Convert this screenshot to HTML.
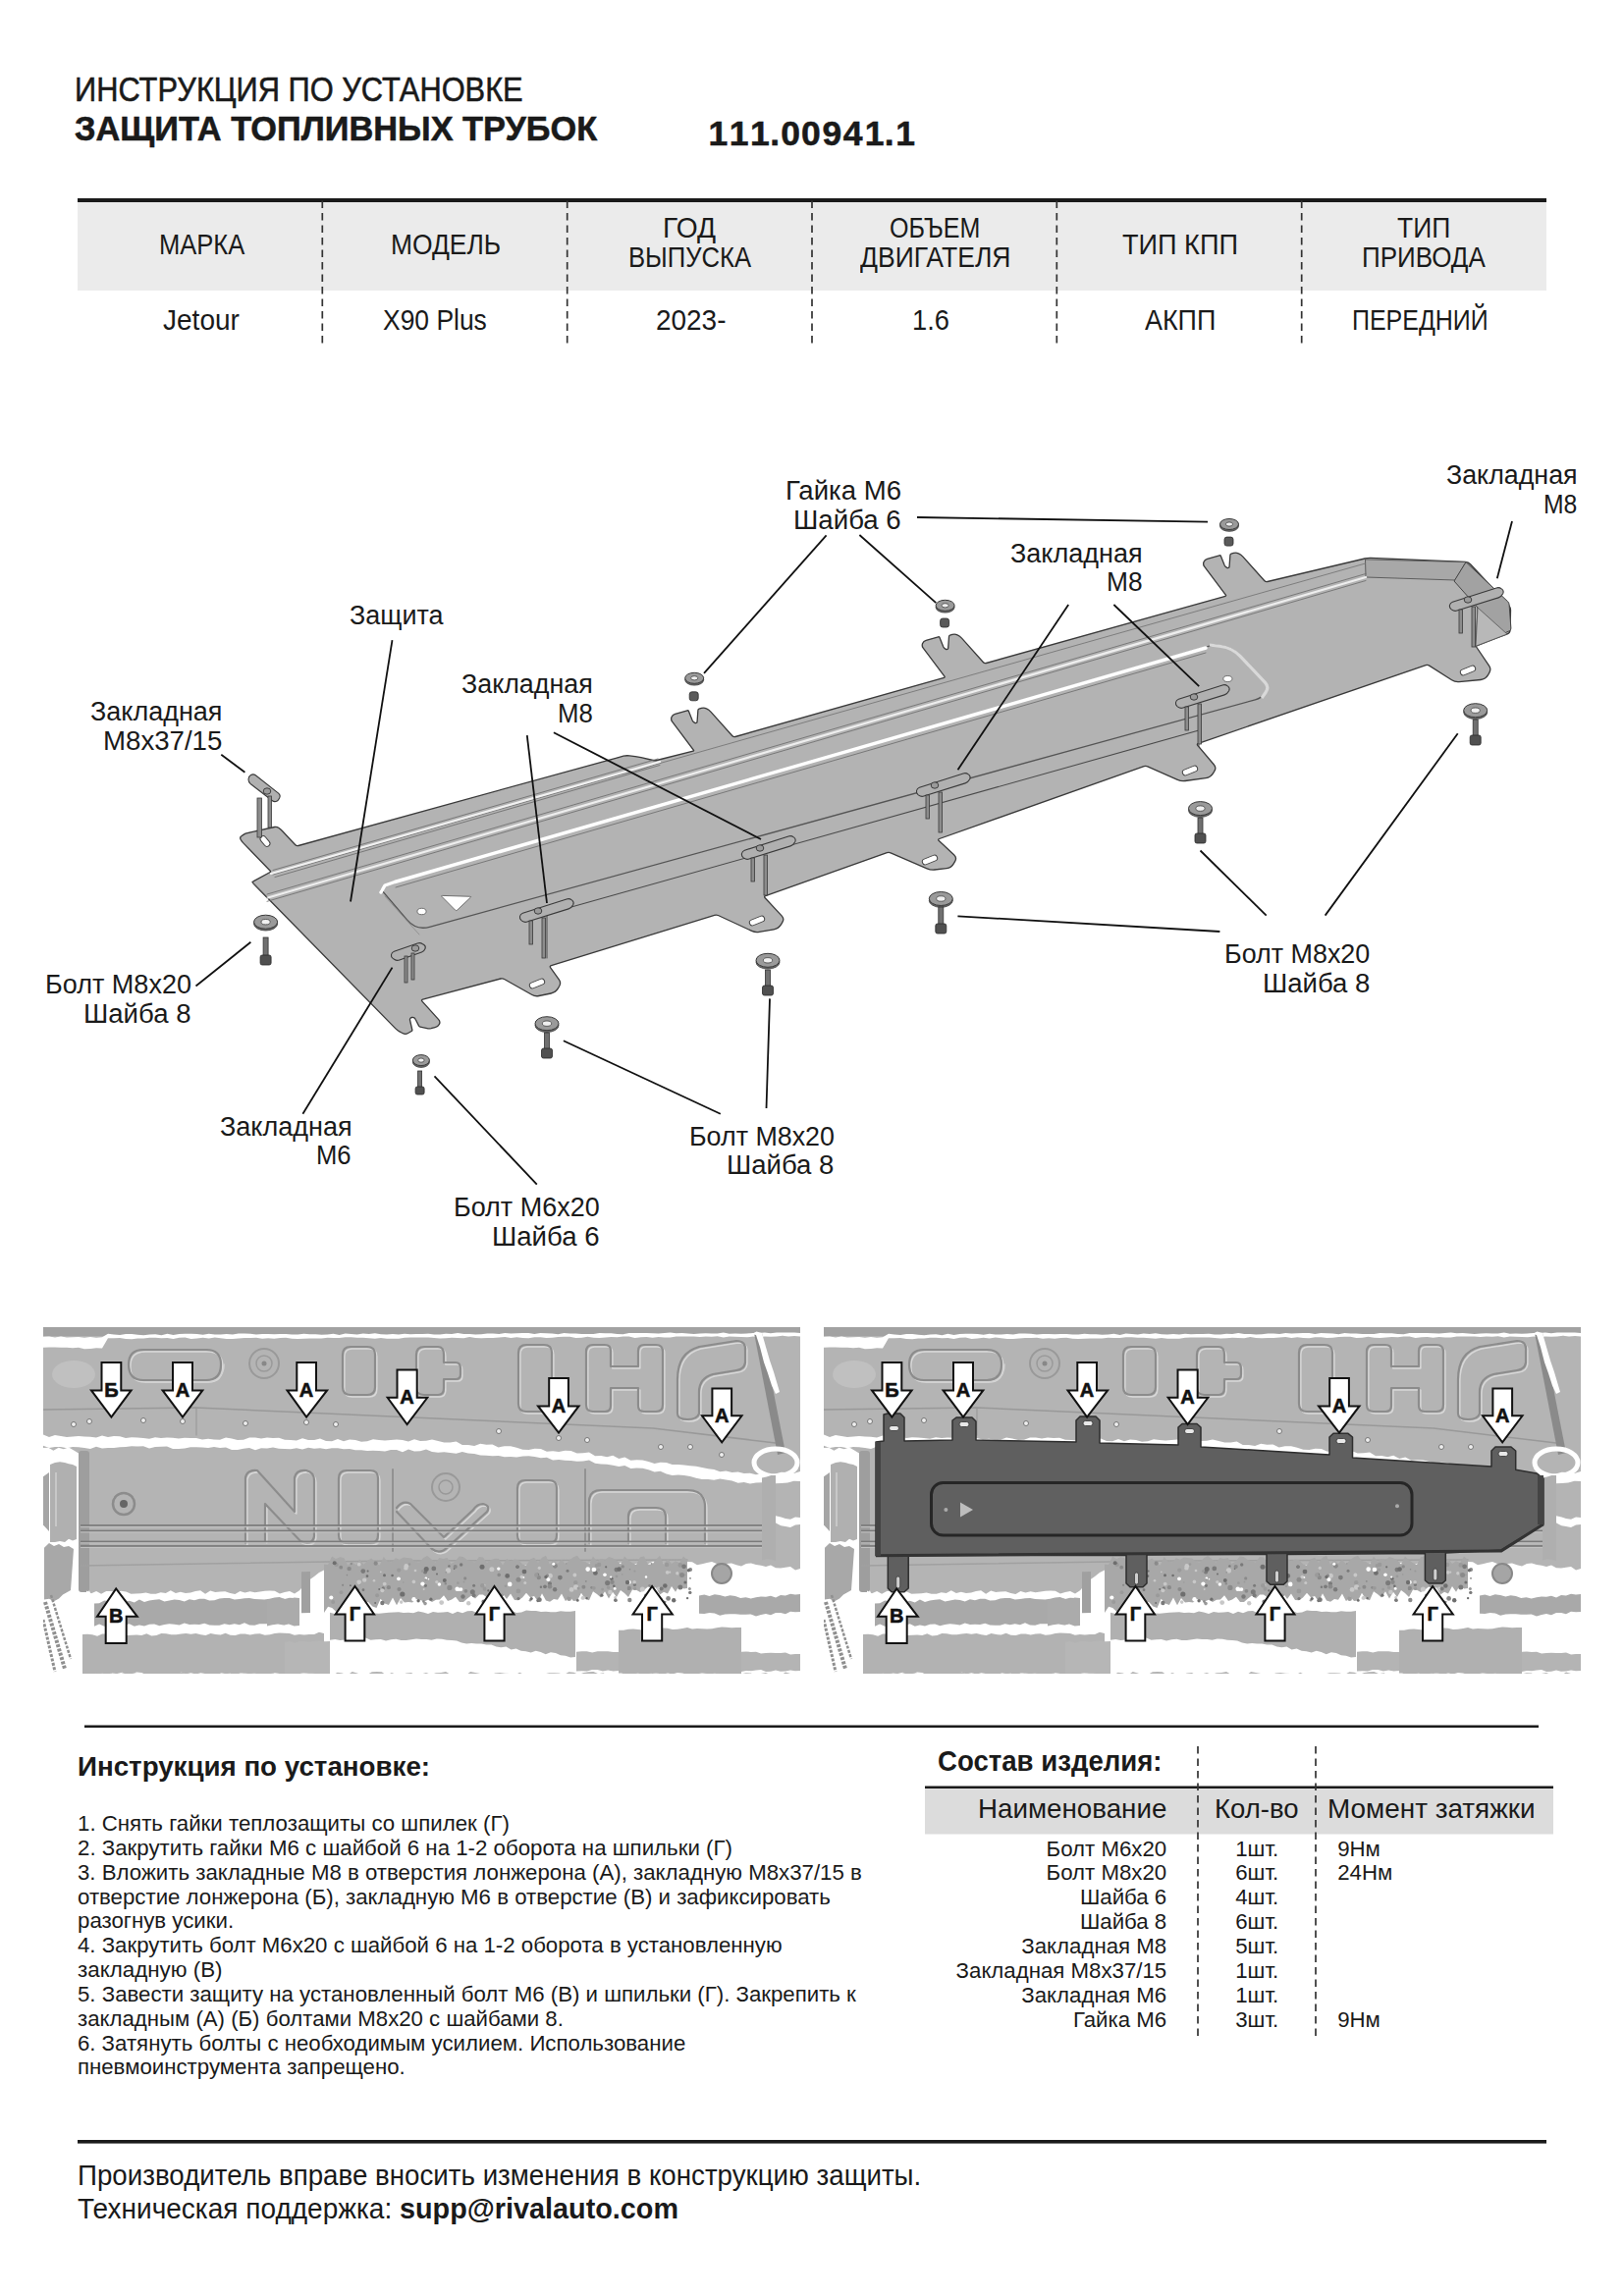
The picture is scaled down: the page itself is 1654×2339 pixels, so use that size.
<!DOCTYPE html>
<html><head><meta charset="utf-8"><style>
html,body{margin:0;padding:0;background:#fff;width:1654px;height:2339px;overflow:hidden}
body{position:relative;font-family:"Liberation Sans",sans-serif;color:#1a1a1a}
.x{position:absolute;white-space:pre;line-height:1;transform-origin:0 0}
.s{-webkit-text-stroke:0.55px #1a1a1a}
svg{position:absolute;left:0;top:0}
</style></head><body>
<svg width="1654" height="2339" viewBox="0 0 1654 2339">
<!-- top table -->
<rect x="79" y="206" width="1496" height="90" fill="#ebebeb"/>
<rect x="79" y="202" width="1496" height="4" fill="#1a1a1a"/>
<g stroke="#333" stroke-width="1.7" stroke-dasharray="7.5 5">
<line x1="328.3" y1="204.5" x2="328.3" y2="350"/>
<line x1="577.7" y1="204.5" x2="577.7" y2="350"/>
<line x1="827" y1="204.5" x2="827" y2="350"/>
<line x1="1076.3" y1="204.5" x2="1076.3" y2="350"/>
<line x1="1325.7" y1="204.5" x2="1325.7" y2="350"/>
</g>
<!-- bottom section -->
<rect x="86" y="1757.5" width="1481" height="2.5" fill="#1a1a1a"/>
<rect x="942" y="1821" width="640" height="47.5" fill="#dcdcdc"/>
<rect x="942" y="1819.5" width="640" height="2.5" fill="#1a1a1a"/>
<g stroke="#333" stroke-width="1.7" stroke-dasharray="7.5 5">
<line x1="1220" y1="1779" x2="1220" y2="2077"/>
<line x1="1340" y1="1779" x2="1340" y2="2077"/>
</g>
<rect x="79" y="2180" width="1496" height="3.6" fill="#1a1a1a"/>
<path d="M258.0,900.0 Q256.6,898.6 258.4,897.6 L275.1,888.5 Q276.0,888.0 275.3,887.3 L247.6,858.6 Q246.0,857.0 245.0,855.0 L245.0,855.0 Q244.0,853.0 245.9,851.8 L248.3,850.1 Q250.0,849.0 252.0,848.6 L279.6,842.5 Q282.0,842.0 284.0,843.5 L284.0,843.5 Q286.0,845.0 287.7,846.8 L300.6,860.5 Q302.0,862.0 303.9,861.5 L629.0,771.8 Q632.0,771.0 635.0,770.2 L635.0,770.2 Q638.0,769.5 641.1,769.9 L647.0,770.6 Q650.0,771.0 652.9,771.7 L665.1,774.5 Q667.0,775.0 668.9,774.5 L706.0,765.2 Q707.0,765.0 706.4,764.2 L684.6,735.2 Q683.0,733.0 684.0,730.5 L684.0,730.5 Q685.0,728.0 687.6,727.3 L700.0,723.8 Q701.0,723.5 701.4,724.4 L705.2,734.1 Q706.0,736.0 708.0,736.5 L708.0,736.5 Q710.0,737.0 710.1,734.9 L710.9,723.5 Q711.0,722.5 711.9,722.2 L714.3,721.4 Q717.0,720.5 719.5,721.8 L719.5,721.8 Q722.0,723.0 723.9,725.1 L745.7,749.5 Q747.0,751.0 748.9,750.5 L961.6,690.3 Q962.6,690.0 962.0,689.2 L940.2,660.2 Q938.6,658.0 939.6,655.5 L939.6,655.5 Q940.6,653.0 943.2,652.3 L955.6,648.8 Q956.6,648.5 957.0,649.4 L960.8,659.1 Q961.6,661.0 963.6,661.5 L963.6,661.5 Q965.6,662.0 965.7,659.9 L966.5,648.5 Q966.6,647.5 967.5,647.2 L969.9,646.4 Q972.6,645.5 975.1,646.8 L975.1,646.8 Q977.6,648.0 979.5,650.1 L1001.3,674.5 Q1002.6,676.0 1004.5,675.5 L1248.0,607.3 Q1249.0,607.0 1248.4,606.2 L1226.6,577.2 Q1225.0,575.0 1226.0,572.5 L1226.0,572.5 Q1227.0,570.0 1229.6,569.3 L1242.0,565.8 Q1243.0,565.5 1243.4,566.4 L1247.2,576.1 Q1248.0,578.0 1250.0,578.5 L1250.0,578.5 Q1252.0,579.0 1252.1,576.9 L1252.9,565.5 Q1253.0,564.5 1253.9,564.2 L1256.3,563.4 Q1259.0,562.5 1261.5,563.8 L1261.5,563.8 Q1264.0,565.0 1265.9,567.1 L1287.7,591.5 Q1289.0,593.0 1290.9,592.5 L1390.1,569.0 Q1393.0,568.3 1396.0,568.4 L1492.5,572.5 Q1495.5,572.6 1497.5,574.8 L1536.6,616.6 Q1538.6,618.8 1538.5,621.8 L1538.1,641.7 Q1538.0,644.7 1535.2,645.8 L1503.9,657.8 Q1503.0,658.2 1503.6,659.0 L1516.7,678.3 Q1518.9,681.6 1516.9,685.1 L1515.5,687.7 Q1513.0,692.0 1508.0,692.5 L1486.0,694.6 Q1482.0,695.0 1478.6,692.8 L1455.7,678.1 Q1454.0,677.0 1452.1,677.7 L1220.5,757.3 Q1218.6,758.0 1219.9,759.5 L1236.4,779.0 Q1239.0,782.0 1236.9,785.4 L1235.6,787.7 Q1233.0,792.0 1228.0,792.7 L1207.0,795.5 Q1203.0,796.0 1199.3,794.4 L1168.8,780.8 Q1167.0,780.0 1165.1,780.7 L956.7,854.5 Q954.8,855.2 956.3,856.6 L971.8,871.0 Q974.7,873.7 972.8,877.2 L971.4,879.6 Q969.0,884.0 964.0,884.6 L951.8,886.0 Q947.8,886.4 944.1,884.8 L907.1,868.8 Q905.3,868.0 903.4,868.7 L779.7,912.6 Q777.8,913.3 779.2,914.8 L796.3,933.1 Q799.0,936.0 796.9,939.4 L795.6,941.7 Q793.0,946.0 788.1,946.9 L773.2,949.4 Q769.3,950.1 765.7,948.4 L731.4,932.5 Q729.6,931.7 727.7,932.3 L561.4,983.7 Q559.5,984.3 560.7,985.9 L569.3,997.8 Q571.7,1001.0 569.7,1004.5 L568.5,1006.7 Q566.0,1011.0 561.1,1012.0 L548.9,1014.5 Q545.0,1015.3 541.5,1013.3 L513.6,997.5 Q511.9,996.5 510.0,997.0 L430.6,1018.1 Q428.7,1018.6 430.0,1020.1 L446.7,1038.6 Q448.7,1040.8 447.4,1043.4 L447.4,1043.4 Q446.0,1046.0 443.1,1046.6 L439.0,1047.6 Q437.0,1048.0 435.0,1047.6 L428.0,1046.2 Q427.0,1046.0 426.6,1045.1 L423.1,1038.3 Q422.0,1036.0 419.5,1036.5 L419.5,1036.5 Q417.0,1037.0 417.6,1039.5 L419.8,1049.0 Q420.0,1050.0 419.1,1050.5 L415.6,1052.5 Q413.0,1054.0 410.3,1052.7 L407.7,1051.3 Q405.0,1050.0 402.9,1047.9 Z" fill="#b3b3b3" stroke="#3a3a3a" stroke-width="1.3" stroke-linejoin="round"/>
<path d="M1390.5,569.9 L1493.0,572.6 L1482.0,591.0 L1391.0,588.0 Z" fill="#a8a8a8" stroke="#555" stroke-width="0.9"/>
<path d="M1493.0,572.6 L1535.5,612.6 Q1537.0,614.0 1537.1,616.0 L1538.9,640.0 Q1539.0,642.0 1537.2,642.8 L1503.0,658.2 L1505.0,619.0 L1481.0,592.0 Z" fill="#a2a2a2" stroke="#444" stroke-width="1"/>
<path d="M1505.0,619.0 L1535.0,646.0 L1503.0,658.2 Z" fill="#b8b8b8" stroke="#555" stroke-width="0.8"/>
<polyline points="278.0,891.0 632.0,789.0 646.0,786.0 667.0,779.0 1390.5,574.0" fill="none" stroke="#777" stroke-width="0.9" stroke-linecap="round" stroke-linejoin="round" />
<polyline points="276.0,890.0 672.0,776.0" fill="none" stroke="#f2f2f2" stroke-width="2.2" stroke-linecap="round" stroke-linejoin="round" />
<polyline points="278.0,886.5 670.0,773.0" fill="none" stroke="#6a6a6a" stroke-width="0.8" stroke-linecap="round" stroke-linejoin="round" />
<polyline points="280.0,893.5 672.0,779.5" fill="none" stroke="#6a6a6a" stroke-width="0.8" stroke-linecap="round" stroke-linejoin="round" />
<polyline points="272.0,914.7 1391.0,588.0" fill="none" stroke="#eeeeee" stroke-width="2.2" stroke-linecap="round" stroke-linejoin="round" />
<polyline points="272.0,911.0 1391.0,584.5" fill="none" stroke="#6a6a6a" stroke-width="0.8" stroke-linecap="round" stroke-linejoin="round" />
<polyline points="272.0,918.3 1391.0,591.5" fill="none" stroke="#6a6a6a" stroke-width="0.8" stroke-linecap="round" stroke-linejoin="round" />
<path d="M388.0,906.0 L414.9,937.4 Q424.0,948.0 437.5,944.3 L1278.4,712.8 Q1285.0,711.0 1289.0,705.5 L1289.0,705.5 Q1293.0,700.0 1288.3,695.1 L1261.6,667.0 Q1255.0,660.0 1245.5,658.5 L1236.0,657.0 L402,899" fill="none" stroke="#555" stroke-width="1.3"/>
<path d="M1232.0,657.0 L1243.5,658.5 Q1255.0,660.0 1263.0,668.4 L1288.3,695.1 Q1293.0,700.0 1289.0,705.5 L1285.0,711.0" fill="none" stroke="#d9d9d9" stroke-width="3.2"/>
<polyline points="388.0,909.0 392.0,902.0 402.0,898.5 1228.0,660.0" fill="none" stroke="#ffffff" stroke-width="3.4" stroke-linecap="round" stroke-linejoin="round" />
<polyline points="403.0,904.0 1228.0,665.0" fill="none" stroke="#6a6a6a" stroke-width="0.8" stroke-linecap="round" stroke-linejoin="round" />
<polyline points="392.0,913.0 427.0,952.0" fill="none" stroke="#8a8a8a" stroke-width="0.8" stroke-linecap="round" stroke-linejoin="round" />
<polyline points="557.0,931.0 1221.0,744.0" fill="none" stroke="#4a4a4a" stroke-width="1.1" stroke-linecap="round" stroke-linejoin="round" />
<polyline points="1221.0,744.0 1221.0,760.0" fill="none" stroke="#4a4a4a" stroke-width="1" stroke-linecap="round" stroke-linejoin="round" />
<polyline points="557.0,931.0 557.0,976.0" fill="none" stroke="#4a4a4a" stroke-width="1" stroke-linecap="round" stroke-linejoin="round" />
<polyline points="256.6,898.6 272.0,914.7" fill="none" stroke="#555" stroke-width="1" stroke-linecap="round" stroke-linejoin="round" />
<path d="M450.1,913.5 Q449.0,912.4 450.5,912.4 L478.8,913.3 Q480.3,913.3 479.2,914.3 L465.7,927.1 Q464.6,928.1 463.5,927.0 Z" fill="#ffffff" stroke="#555" stroke-width="0.8"/>
<ellipse cx="429.5" cy="928.5" rx="4.5" ry="3.2" fill="#fff" stroke="#555" stroke-width="0.8"/>
<ellipse cx="1250.4" cy="691.5" rx="4.5" ry="3" fill="#fff" stroke="#555" stroke-width="0.8"/>
<rect x="1487.0" y="680.0" width="16" height="6" rx="3" fill="#fff" stroke="#444" stroke-width="1" transform="rotate(-22 1495 683)"/>
<rect x="1204.0" y="782.0" width="16" height="6" rx="3" fill="#fff" stroke="#444" stroke-width="1" transform="rotate(-22 1212 785)"/>
<rect x="939.0" y="873.0" width="16" height="6" rx="3" fill="#fff" stroke="#444" stroke-width="1" transform="rotate(-22 947 876)"/>
<rect x="763.0" y="935.0" width="16" height="6" rx="3" fill="#fff" stroke="#444" stroke-width="1" transform="rotate(-22 771 938)"/>
<rect x="539.0" y="999.0" width="16" height="6" rx="3" fill="#fff" stroke="#444" stroke-width="1" transform="rotate(-22 547 1002)"/>
<rect x="264.0" y="854.0" width="12" height="6" rx="3" fill="#fff" stroke="#444" stroke-width="1" transform="rotate(50 270 857)"/>
<path d="M253.0,793.9 Q253.0,791.0 255.5,789.5 L255.5,789.5 Q258.0,788.0 260.3,789.8 L283.6,808.1 Q286.0,810.0 284.7,812.7 L283.9,814.2 Q283.0,816.0 281.0,816.5 L281.0,816.5 Q279.0,817.0 277.4,815.7 L255.4,798.8 Q253.0,797.0 253.0,794.0 Z" fill="#b0b0b0" stroke="#3a3a3a" stroke-width="1.1"/>
<rect x="262.0" y="813.0" width="4.5" height="40.0" fill="#8c8c8c" stroke="#3a3a3a" stroke-width="0.8"/>
<rect x="273.0" y="811.0" width="3.5" height="32.0" fill="#8c8c8c" stroke="#3a3a3a" stroke-width="0.8"/>
<ellipse cx="272" cy="806" rx="3.8" ry="3.2" fill="#9a9a9a" stroke="#333" stroke-width="0.9"/>
<path d="M398.5,972.5 Q399.0,970.0 401.4,969.2 L425.2,961.0 Q428.0,960.0 430.5,961.7 L431.8,962.5 Q434.0,964.0 433.0,966.5 L433.0,966.5 Q432.0,969.0 429.5,969.9 L406.8,978.0 Q404.0,979.0 401.5,977.3 L400.1,976.4 Q398.0,975.0 398.5,972.5 Z" fill="#b0b0b0" stroke="#3a3a3a" stroke-width="1.1"/>
<rect x="412.0" y="974.0" width="3" height="27.0" fill="#8c8c8c" stroke="#3a3a3a" stroke-width="0.8"/>
<rect x="419.0" y="971.0" width="3" height="27.0" fill="#8c8c8c" stroke="#3a3a3a" stroke-width="0.8"/>
<ellipse cx="423" cy="966" rx="3.8" ry="3.2" fill="#9a9a9a" stroke="#333" stroke-width="0.9"/>
<path d="M529.5,933.5 Q530.0,931.0 532.4,930.2 L577.1,915.9 Q580.0,915.0 582.3,916.9 L582.7,917.1 Q585.0,919.0 583.7,921.7 L583.3,922.3 Q582.0,925.0 579.1,925.9 L536.9,939.1 Q534.0,940.0 531.7,938.1 L531.0,937.6 Q529.0,936.0 529.5,933.5 Z" fill="#b0b0b0" stroke="#3a3a3a" stroke-width="1.1"/>
<ellipse cx="548" cy="928" rx="3.8" ry="3.2" fill="#9a9a9a" stroke="#333" stroke-width="0.9"/>
<rect x="539.0" y="938.0" width="3.6" height="24.0" fill="#8c8c8c" stroke="#3a3a3a" stroke-width="0.8"/>
<rect x="552.0" y="935.0" width="3.6" height="41.0" fill="#8c8c8c" stroke="#3a3a3a" stroke-width="0.8"/>
<path d="M755.5,869.5 Q756.0,867.0 758.4,866.2 L803.1,851.9 Q806.0,851.0 808.3,852.9 L808.7,853.1 Q811.0,855.0 809.7,857.7 L809.3,858.3 Q808.0,861.0 805.1,861.9 L762.9,875.1 Q760.0,876.0 757.7,874.1 L757.0,873.6 Q755.0,872.0 755.5,869.5 Z" fill="#b0b0b0" stroke="#3a3a3a" stroke-width="1.1"/>
<ellipse cx="774" cy="864" rx="3.8" ry="3.2" fill="#9a9a9a" stroke="#333" stroke-width="0.9"/>
<rect x="765.0" y="874.0" width="3.6" height="24.0" fill="#8c8c8c" stroke="#3a3a3a" stroke-width="0.8"/>
<rect x="778.0" y="871.0" width="3.6" height="41.0" fill="#8c8c8c" stroke="#3a3a3a" stroke-width="0.8"/>
<path d="M933.5,805.5 Q934.0,803.0 936.4,802.2 L981.1,787.9 Q984.0,787.0 986.3,788.9 L986.7,789.1 Q989.0,791.0 987.7,793.7 L987.3,794.3 Q986.0,797.0 983.1,797.9 L940.9,811.1 Q938.0,812.0 935.7,810.1 L935.0,809.6 Q933.0,808.0 933.5,805.5 Z" fill="#b0b0b0" stroke="#3a3a3a" stroke-width="1.1"/>
<ellipse cx="952" cy="800" rx="3.8" ry="3.2" fill="#9a9a9a" stroke="#333" stroke-width="0.9"/>
<rect x="943.0" y="810.0" width="3.6" height="24.0" fill="#8c8c8c" stroke="#3a3a3a" stroke-width="0.8"/>
<rect x="956.0" y="807.0" width="3.6" height="41.0" fill="#8c8c8c" stroke="#3a3a3a" stroke-width="0.8"/>
<path d="M1197.5,715.5 Q1198.0,713.0 1200.4,712.2 L1245.1,697.9 Q1248.0,697.0 1250.3,698.9 L1250.7,699.1 Q1253.0,701.0 1251.7,703.7 L1251.3,704.3 Q1250.0,707.0 1247.1,707.9 L1204.9,721.1 Q1202.0,722.0 1199.7,720.1 L1199.0,719.6 Q1197.0,718.0 1197.5,715.5 Z" fill="#b0b0b0" stroke="#3a3a3a" stroke-width="1.1"/>
<ellipse cx="1216" cy="710" rx="3.8" ry="3.2" fill="#9a9a9a" stroke="#333" stroke-width="0.9"/>
<rect x="1207.0" y="720.0" width="3.6" height="24.0" fill="#8c8c8c" stroke="#3a3a3a" stroke-width="0.8"/>
<rect x="1220.0" y="717.0" width="3.6" height="41.0" fill="#8c8c8c" stroke="#3a3a3a" stroke-width="0.8"/>
<path d="M1476.5,616.5 Q1477.0,614.0 1479.4,613.2 L1524.1,598.9 Q1527.0,598.0 1529.3,599.9 L1529.7,600.1 Q1532.0,602.0 1530.7,604.7 L1530.3,605.3 Q1529.0,608.0 1526.1,608.9 L1483.9,622.1 Q1481.0,623.0 1478.7,621.1 L1478.0,620.6 Q1476.0,619.0 1476.5,616.5 Z" fill="#b0b0b0" stroke="#3a3a3a" stroke-width="1.1"/>
<ellipse cx="1495" cy="611" rx="3.8" ry="3.2" fill="#9a9a9a" stroke="#333" stroke-width="0.9"/>
<rect x="1486.0" y="621.0" width="3.6" height="24.0" fill="#8c8c8c" stroke="#3a3a3a" stroke-width="0.8"/>
<rect x="1499.0" y="618.0" width="3.6" height="41.0" fill="#8c8c8c" stroke="#3a3a3a" stroke-width="0.8"/>
<ellipse cx="270.6" cy="941.0" rx="12" ry="7" fill="#6a6a6a" stroke="#3a3a3a" stroke-width="0.8"/>
<ellipse cx="270.6" cy="939.2" rx="12" ry="7" fill="#9a9a9a" stroke="#3a3a3a" stroke-width="1"/>
<ellipse cx="270.6" cy="939.2" rx="4.6" ry="2.7" fill="#f0f0f0" stroke="#444" stroke-width="0.8"/>
<rect x="268.1" y="955" width="5" height="20" fill="#707070" stroke="#333" stroke-width="0.8"/>
<rect x="265.1" y="973" width="11" height="10" rx="2" fill="#505050" stroke="#2a2a2a" stroke-width="0.8"/>
<ellipse cx="557" cy="1044.5" rx="12" ry="7" fill="#6a6a6a" stroke="#3a3a3a" stroke-width="0.8"/>
<ellipse cx="557" cy="1042.7" rx="12" ry="7" fill="#9a9a9a" stroke="#3a3a3a" stroke-width="1"/>
<ellipse cx="557" cy="1042.7" rx="4.6" ry="2.7" fill="#f0f0f0" stroke="#444" stroke-width="0.8"/>
<rect x="554.5" y="1052" width="5" height="18" fill="#707070" stroke="#333" stroke-width="0.8"/>
<rect x="551.5" y="1068" width="11" height="10" rx="2" fill="#505050" stroke="#2a2a2a" stroke-width="0.8"/>
<ellipse cx="782" cy="980.0999999999999" rx="12" ry="7" fill="#6a6a6a" stroke="#3a3a3a" stroke-width="0.8"/>
<ellipse cx="782" cy="978.3" rx="12" ry="7" fill="#9a9a9a" stroke="#3a3a3a" stroke-width="1"/>
<ellipse cx="782" cy="978.3" rx="4.6" ry="2.7" fill="#f0f0f0" stroke="#444" stroke-width="0.8"/>
<rect x="779.5" y="988" width="5" height="18" fill="#707070" stroke="#333" stroke-width="0.8"/>
<rect x="776.5" y="1004" width="11" height="10" rx="2" fill="#505050" stroke="#2a2a2a" stroke-width="0.8"/>
<ellipse cx="958.3" cy="917.3" rx="12" ry="7" fill="#6a6a6a" stroke="#3a3a3a" stroke-width="0.8"/>
<ellipse cx="958.3" cy="915.5" rx="12" ry="7" fill="#9a9a9a" stroke="#3a3a3a" stroke-width="1"/>
<ellipse cx="958.3" cy="915.5" rx="4.6" ry="2.7" fill="#f0f0f0" stroke="#444" stroke-width="0.8"/>
<rect x="955.8" y="924" width="5" height="19" fill="#707070" stroke="#333" stroke-width="0.8"/>
<rect x="952.8" y="941" width="11" height="10" rx="2" fill="#505050" stroke="#2a2a2a" stroke-width="0.8"/>
<ellipse cx="1222.5" cy="825.4" rx="12" ry="7" fill="#6a6a6a" stroke="#3a3a3a" stroke-width="0.8"/>
<ellipse cx="1222.5" cy="823.6" rx="12" ry="7" fill="#9a9a9a" stroke="#3a3a3a" stroke-width="1"/>
<ellipse cx="1222.5" cy="823.6" rx="4.6" ry="2.7" fill="#f0f0f0" stroke="#444" stroke-width="0.8"/>
<rect x="1220.0" y="833" width="5" height="18" fill="#707070" stroke="#333" stroke-width="0.8"/>
<rect x="1217.0" y="849" width="11" height="10" rx="2" fill="#505050" stroke="#2a2a2a" stroke-width="0.8"/>
<ellipse cx="1502.7" cy="725.5" rx="12" ry="7" fill="#6a6a6a" stroke="#3a3a3a" stroke-width="0.8"/>
<ellipse cx="1502.7" cy="723.7" rx="12" ry="7" fill="#9a9a9a" stroke="#3a3a3a" stroke-width="1"/>
<ellipse cx="1502.7" cy="723.7" rx="4.6" ry="2.7" fill="#f0f0f0" stroke="#444" stroke-width="0.8"/>
<rect x="1500.2" y="733" width="5" height="18" fill="#707070" stroke="#333" stroke-width="0.8"/>
<rect x="1497.2" y="749" width="11" height="10" rx="2" fill="#505050" stroke="#2a2a2a" stroke-width="0.8"/>
<ellipse cx="428.9" cy="1081.8999999999999" rx="8.5" ry="5.5" fill="#6a6a6a" stroke="#3a3a3a" stroke-width="0.8"/>
<ellipse cx="428.9" cy="1080.1" rx="8.5" ry="5.5" fill="#9a9a9a" stroke="#3a3a3a" stroke-width="1"/>
<ellipse cx="428.9" cy="1080.1" rx="3.2" ry="2.1" fill="#f0f0f0" stroke="#444" stroke-width="0.8"/>
<rect x="425.6" y="1091" width="4" height="18" fill="#707070" stroke="#333" stroke-width="0.8"/>
<rect x="423.1" y="1107" width="9" height="8" rx="2" fill="#505050" stroke="#2a2a2a" stroke-width="0.8"/>
<ellipse cx="707.2" cy="692.5999999999999" rx="9.5" ry="5.5" fill="#6a6a6a" stroke="#3a3a3a" stroke-width="0.8"/>
<ellipse cx="707.2" cy="690.8" rx="9.5" ry="5.5" fill="#9a9a9a" stroke="#3a3a3a" stroke-width="1"/>
<ellipse cx="707.2" cy="690.8" rx="3.6" ry="2.1" fill="#f0f0f0" stroke="#444" stroke-width="0.8"/>
<rect x="702.2" y="704.8" width="9" height="9" rx="2.5" fill="#5a5a5a" stroke="#2a2a2a" stroke-width="0.8"/>
<ellipse cx="962.6" cy="618.5999999999999" rx="9.5" ry="5.5" fill="#6a6a6a" stroke="#3a3a3a" stroke-width="0.8"/>
<ellipse cx="962.6" cy="616.8" rx="9.5" ry="5.5" fill="#9a9a9a" stroke="#3a3a3a" stroke-width="1"/>
<ellipse cx="962.6" cy="616.8" rx="3.6" ry="2.1" fill="#f0f0f0" stroke="#444" stroke-width="0.8"/>
<rect x="957.6" y="630.0" width="9" height="9" rx="2.5" fill="#5a5a5a" stroke="#2a2a2a" stroke-width="0.8"/>
<ellipse cx="1252" cy="535.8" rx="9.5" ry="5.5" fill="#6a6a6a" stroke="#3a3a3a" stroke-width="0.8"/>
<ellipse cx="1252" cy="534" rx="9.5" ry="5.5" fill="#9a9a9a" stroke="#3a3a3a" stroke-width="1"/>
<ellipse cx="1252" cy="534" rx="3.6" ry="2.1" fill="#f0f0f0" stroke="#444" stroke-width="0.8"/>
<rect x="1247.0" y="547.1" width="9" height="9" rx="2.5" fill="#5a5a5a" stroke="#2a2a2a" stroke-width="0.8"/>
<line x1="934" y1="527" x2="1230" y2="531.6" stroke="#111" stroke-width="1.8"/>
<line x1="841.6" y1="545.4" x2="717" y2="685.9" stroke="#111" stroke-width="1.8"/>
<line x1="875.4" y1="545" x2="953.3" y2="614.2" stroke="#111" stroke-width="1.8"/>
<line x1="1540" y1="531" x2="1524.8" y2="589.3" stroke="#111" stroke-width="1.8"/>
<line x1="399.5" y1="652.2" x2="357" y2="918.5" stroke="#111" stroke-width="1.8"/>
<line x1="1088.2" y1="616" x2="975.5" y2="784.2" stroke="#111" stroke-width="1.8"/>
<line x1="1134.4" y1="616" x2="1221.2" y2="699.2" stroke="#111" stroke-width="1.8"/>
<line x1="225.3" y1="768.7" x2="249.4" y2="786.8" stroke="#111" stroke-width="1.8"/>
<line x1="536.8" y1="749.2" x2="557" y2="920" stroke="#111" stroke-width="1.8"/>
<line x1="563.9" y1="746.2" x2="775" y2="855" stroke="#111" stroke-width="1.8"/>
<line x1="199.5" y1="1004.5" x2="255.4" y2="959.7" stroke="#111" stroke-width="1.8"/>
<line x1="308.4" y1="1134.8" x2="399.5" y2="985.6" stroke="#111" stroke-width="1.8"/>
<line x1="442.5" y1="1096.4" x2="546.8" y2="1206.6" stroke="#111" stroke-width="1.8"/>
<line x1="573.9" y1="1060.3" x2="733.8" y2="1134.7" stroke="#111" stroke-width="1.8"/>
<line x1="784" y1="1017.4" x2="780.5" y2="1129" stroke="#111" stroke-width="1.8"/>
<line x1="975.4" y1="933.3" x2="1242.4" y2="949" stroke="#111" stroke-width="1.8"/>
<line x1="1222.5" y1="866.5" x2="1289.7" y2="932.6" stroke="#111" stroke-width="1.8"/>
<line x1="1349.6" y1="932.6" x2="1484.7" y2="747.2" stroke="#111" stroke-width="1.8"/>
<defs><clipPath id="pc"><rect x="44" y="1352" width="771" height="353"/></clipPath>
</defs>
<g id="photo" clip-path="url(#pc)"><rect x="44" y="1352" width="771" height="353" fill="#b4b4b4"/>
<rect x="44" y="1352" width="771" height="9" fill="#a2a2a2"/>
<polygon points="44.0,1361.7 50.0,1361.5 56.0,1362.4 62.0,1361.6 68.0,1362.5 74.0,1362.3 80.0,1361.9 86.0,1362.7 92.0,1362.1 98.0,1362.8 104.0,1362.3 110.0,1358.8 116.0,1359.4 122.1,1360.0 128.1,1358.9 134.2,1359.0 140.2,1359.7 146.2,1360.2 152.3,1359.6 158.3,1359.3 164.4,1360.2 170.4,1358.7 176.5,1360.0 182.5,1359.0 188.5,1358.8 194.6,1358.7 200.6,1359.0 206.7,1359.8 212.7,1358.8 218.8,1359.4 224.8,1359.5 230.8,1359.1 236.9,1359.4 242.9,1358.6 249.0,1358.6 255.0,1358.8 261.0,1359.5 267.1,1359.1 273.1,1358.9 279.2,1359.3 285.2,1359.1 291.2,1358.9 297.3,1359.6 303.3,1359.5 309.4,1358.7 315.4,1359.3 321.5,1359.2 327.5,1359.7 333.5,1359.5 339.6,1358.8 345.6,1359.9 351.7,1358.5 357.7,1358.9 363.8,1359.5 369.8,1358.5 375.8,1359.0 381.9,1358.3 387.9,1359.3 394.0,1359.4 400.0,1359.1 406.0,1359.6 412.0,1358.7 418.0,1359.3 424.1,1359.1 430.1,1359.1 436.1,1358.8 442.1,1359.4 448.1,1359.6 454.1,1358.8 460.1,1359.1 466.2,1358.1 472.2,1359.1 478.2,1359.0 484.2,1359.6 490.2,1359.3 496.2,1358.4 502.2,1358.6 508.3,1359.0 514.3,1358.0 520.3,1358.6 526.3,1358.2 532.3,1358.1 538.3,1358.0 544.3,1359.1 550.4,1358.0 556.4,1358.2 562.4,1358.4 568.4,1359.2 574.4,1357.9 580.4,1358.5 586.4,1358.6 592.5,1359.1 598.5,1359.0 604.5,1359.1 610.5,1358.1 616.5,1358.3 622.5,1358.2 628.6,1359.1 634.6,1359.2 640.6,1357.9 646.6,1357.9 652.6,1358.0 658.6,1358.0 664.6,1358.3 670.7,1358.5 676.7,1358.0 682.7,1357.5 688.7,1358.2 694.7,1358.1 700.7,1358.4 706.7,1359.0 712.8,1358.6 718.8,1358.3 724.8,1358.4 730.8,1358.5 736.8,1357.5 742.8,1358.8 748.8,1358.6 754.9,1358.7 760.9,1358.6 766.9,1357.9 772.9,1357.9 778.9,1357.5 784.9,1358.3 790.9,1357.4 797.0,1357.4 803.0,1357.6 809.0,1357.5 815.0,1358.0 815.0,1361.5 809.0,1361.0 803.0,1361.4 797.0,1360.8 790.9,1361.6 784.9,1361.7 778.9,1361.6 772.9,1362.3 766.9,1361.5 760.9,1362.3 754.9,1361.9 748.8,1361.7 742.8,1361.5 736.8,1362.4 730.8,1361.2 724.8,1361.7 718.8,1361.5 712.8,1362.0 706.7,1361.5 700.7,1361.6 694.7,1361.5 688.7,1361.5 682.7,1362.5 676.7,1362.6 670.7,1361.9 664.6,1362.7 658.6,1362.1 652.6,1362.3 646.6,1362.9 640.6,1361.4 634.6,1361.6 628.6,1362.3 622.5,1362.0 616.5,1362.5 610.5,1363.0 604.5,1362.8 598.5,1361.7 592.5,1362.8 586.4,1363.0 580.4,1361.8 574.4,1361.8 568.4,1361.9 562.4,1362.8 556.4,1363.1 550.4,1362.3 544.3,1362.3 538.3,1363.3 532.3,1363.0 526.3,1362.3 520.3,1363.0 514.3,1362.1 508.3,1362.6 502.2,1363.0 496.2,1363.1 490.2,1363.3 484.2,1363.0 478.2,1362.1 472.2,1363.2 466.2,1363.0 460.1,1362.7 454.1,1363.3 448.1,1363.5 442.1,1363.0 436.1,1362.4 430.1,1362.4 424.1,1362.5 418.0,1362.5 412.0,1362.7 406.0,1363.7 400.0,1363.8 394.0,1363.7 387.9,1362.9 381.9,1363.8 375.8,1363.3 369.8,1362.7 363.8,1362.7 357.7,1362.3 351.7,1362.3 345.6,1362.9 339.6,1363.1 333.5,1362.7 327.5,1363.5 321.5,1363.6 315.4,1363.6 309.4,1363.7 303.3,1363.9 297.3,1363.7 291.2,1362.7 285.2,1362.9 279.2,1363.7 273.1,1363.3 267.1,1363.7 261.0,1362.7 255.0,1363.0 249.0,1362.9 242.9,1363.6 236.9,1363.9 230.8,1364.1 224.8,1363.3 218.8,1362.6 212.7,1363.4 206.7,1362.8 200.6,1363.4 194.6,1364.1 188.5,1362.6 182.5,1362.8 176.5,1363.9 170.4,1363.0 164.4,1363.2 158.3,1362.8 152.3,1362.8 146.2,1363.4 140.2,1363.4 134.2,1364.2 128.1,1364.0 122.1,1362.9 116.0,1363.3 110.0,1363.3 104.0,1373.6 98.0,1373.3 92.0,1374.0 86.0,1374.3 80.0,1372.8 74.0,1373.3 68.0,1372.8 62.0,1372.7 56.0,1372.4 50.0,1372.4 44.0,1372.7" fill="#fff"/>
<polygon points="44.0,1461.4 50.0,1464.0 56.0,1462.1 62.0,1463.1 68.0,1464.0 74.0,1463.6 80.0,1462.9 86.0,1463.6 92.0,1463.8 98.0,1464.6 104.0,1462.5 110.0,1464.0 116.0,1463.1 122.0,1463.3 128.0,1464.9 134.0,1464.2 140.0,1464.4 146.0,1465.1 152.0,1465.7 158.0,1464.3 164.0,1464.9 170.0,1464.6 176.0,1464.7 182.0,1465.4 188.0,1464.7 194.0,1465.0 200.0,1464.9 206.0,1466.5 212.0,1465.8 218.0,1466.4 224.0,1466.7 230.0,1464.6 236.0,1465.6 242.0,1466.9 248.0,1466.7 254.0,1464.5 260.0,1464.5 266.0,1465.6 272.0,1464.5 278.0,1465.1 284.0,1464.7 290.0,1466.7 296.0,1467.1 302.0,1467.5 308.0,1465.2 314.0,1467.1 320.0,1467.0 326.0,1465.4 332.0,1467.9 338.0,1468.2 344.0,1465.9 350.0,1468.3 356.0,1466.6 362.0,1467.0 368.0,1468.7 374.0,1468.2 380.0,1466.2 386.0,1467.1 392.0,1467.4 398.0,1467.0 404.0,1466.6 410.0,1467.0 416.0,1468.4 422.0,1466.2 428.0,1468.0 434.0,1467.7 440.0,1466.5 446.2,1468.0 452.3,1469.4 458.5,1469.5 464.6,1468.6 470.8,1472.1 476.9,1471.9 483.1,1473.0 489.2,1470.7 495.4,1471.7 501.5,1471.5 507.7,1474.4 513.8,1473.3 520.0,1473.3 526.2,1474.8 532.3,1476.8 538.5,1477.0 544.6,1475.7 550.8,1475.9 556.9,1478.8 563.1,1478.2 569.2,1479.1 575.4,1477.7 581.5,1478.1 587.7,1480.6 593.8,1480.3 600.0,1479.6 606.1,1483.2 612.1,1483.0 618.2,1484.3 624.2,1482.8 630.3,1486.1 636.3,1484.4 642.4,1487.7 648.4,1487.2 654.5,1487.6 660.5,1489.1 666.6,1491.0 672.6,1489.7 678.7,1490.1 684.7,1492.1 690.8,1492.0 696.8,1492.4 702.9,1493.3 708.9,1493.8 715.0,1495.0 721.1,1496.2 727.2,1496.9 733.3,1499.2 739.4,1498.4 745.6,1499.9 751.7,1499.6 757.8,1501.0 763.9,1500.7 770.0,1502.2 776.4,1500.9 782.9,1502.6 789.3,1501.4 795.7,1499.7 802.1,1500.1 808.6,1501.0 815.0,1499.0 815.0,1509.0 808.6,1508.8 802.1,1510.4 795.7,1510.9 789.3,1511.3 782.9,1510.4 776.4,1510.2 770.0,1510.4 763.9,1511.6 757.8,1510.0 751.7,1510.8 745.6,1508.5 739.4,1507.5 733.3,1506.6 727.2,1507.8 721.1,1507.0 715.0,1506.9 708.9,1505.7 702.9,1504.1 696.8,1502.9 690.8,1502.4 684.7,1503.0 678.7,1501.4 672.6,1498.8 666.6,1499.6 660.5,1497.2 654.5,1495.7 648.4,1495.4 642.4,1496.0 636.3,1493.0 630.3,1494.0 624.2,1492.7 618.2,1491.7 612.1,1491.6 606.1,1490.8 600.0,1487.4 593.8,1488.5 587.7,1488.7 581.5,1488.1 575.4,1487.7 569.2,1487.1 563.1,1487.5 556.9,1484.8 550.8,1485.2 544.6,1484.0 538.5,1483.3 532.3,1483.5 526.2,1484.5 520.0,1484.1 513.8,1484.3 507.7,1482.9 501.5,1483.3 495.4,1482.8 489.2,1482.5 483.1,1481.0 476.9,1480.6 470.8,1479.0 464.6,1480.7 458.5,1480.0 452.3,1479.3 446.2,1479.7 440.0,1479.1 434.0,1476.5 428.0,1478.3 422.0,1478.5 416.0,1476.6 410.0,1479.2 404.0,1477.0 398.0,1477.1 392.0,1478.6 386.0,1478.0 380.0,1477.8 374.0,1478.0 368.0,1477.2 362.0,1477.3 356.0,1476.1 350.0,1476.2 344.0,1475.3 338.0,1475.3 332.0,1476.3 326.0,1475.3 320.0,1475.7 314.0,1474.8 308.0,1476.4 302.0,1475.3 296.0,1476.2 290.0,1476.0 284.0,1475.7 278.0,1474.4 272.0,1475.4 266.0,1475.2 260.0,1477.2 254.0,1474.9 248.0,1475.8 242.0,1477.0 236.0,1476.9 230.0,1474.6 224.0,1475.1 218.0,1474.1 212.0,1475.0 206.0,1474.4 200.0,1474.2 194.0,1474.3 188.0,1475.5 182.0,1476.1 176.0,1475.9 170.0,1473.5 164.0,1473.7 158.0,1473.9 152.0,1475.5 146.0,1473.3 140.0,1473.4 134.0,1473.2 128.0,1474.1 122.0,1474.2 116.0,1474.9 110.0,1475.1 104.0,1475.4 98.0,1473.8 92.0,1475.9 86.0,1474.9 80.0,1474.3 74.0,1473.9 68.0,1475.2 62.0,1474.1 56.0,1473.9 50.0,1475.1 44.0,1472.7" fill="#fff"/>
<path d="M44,1436 L200,1434 L665,1455 L790,1470" fill="none" stroke="#999" stroke-width="1.5" stroke-linecap="round" stroke-linejoin="round"/>
<path d="M200,1434 L200,1462" fill="none" stroke="#9a9a9a" stroke-width="1.2" stroke-linecap="round" stroke-linejoin="round"/>
<path d="M146,1375 H210 Q225,1375 225,1390 Q225,1406 210,1406 H146 Q131,1406 131,1390 Q131,1375 146,1375 Z" transform="translate(1.8 2)" fill="none" stroke="#d8d8d8" stroke-width="1.6" stroke-linecap="round" stroke-linejoin="round"/>
<path d="M146,1375 H210 Q225,1375 225,1390 Q225,1406 210,1406 H146 Q131,1406 131,1390 Q131,1375 146,1375 Z" fill="none" stroke="#8c8c8c" stroke-width="2.2" stroke-linecap="round" stroke-linejoin="round"/>
<path d="M148,1408 H212 Q228,1406 228,1390" fill="none" stroke="#d2d2d2" stroke-width="1.5" stroke-linecap="round" stroke-linejoin="round"/>
<circle cx="269" cy="1389" r="15" fill="none" stroke="#999" stroke-width="2"/><circle cx="269" cy="1389" r="8" fill="none" stroke="#9a9a9a" stroke-width="1.5"/><circle cx="269" cy="1389" r="2.5" fill="#888"/>
<path d="M357,1372 H374 Q382,1372 382,1380 V1413 Q382,1421 374,1421 H357 Q349,1421 349,1413 V1380 Q349,1372 357,1372 Z" transform="translate(1.8 2)" fill="none" stroke="#d8d8d8" stroke-width="1.6" stroke-linecap="round" stroke-linejoin="round"/>
<path d="M357,1372 H374 Q382,1372 382,1380 V1413 Q382,1421 374,1421 H357 Q349,1421 349,1413 V1380 Q349,1372 357,1372 Z" fill="none" stroke="#8c8c8c" stroke-width="2.2" stroke-linecap="round" stroke-linejoin="round"/>
<path d="M432,1372 H446 Q452,1372 452,1380 V1388 H464 Q469,1388 469,1394 V1400 Q469,1405 464,1405 H452 V1414 Q452,1421 446,1421 H432 Q424,1421 424,1414 V1380 Q424,1372 432,1372 Z" transform="translate(1.8 2)" fill="none" stroke="#d8d8d8" stroke-width="1.6" stroke-linecap="round" stroke-linejoin="round"/>
<path d="M432,1372 H446 Q452,1372 452,1380 V1388 H464 Q469,1388 469,1394 V1400 Q469,1405 464,1405 H452 V1414 Q452,1421 446,1421 H432 Q424,1421 424,1414 V1380 Q424,1372 432,1372 Z" fill="none" stroke="#8c8c8c" stroke-width="2.2" stroke-linecap="round" stroke-linejoin="round"/>
<path d="M536,1370 H554 Q562,1370 562,1378 V1430 Q562,1438 554,1438 H536 Q528,1438 528,1430 V1378 Q528,1370 536,1370 Z" transform="translate(1.8 2)" fill="none" stroke="#d8d8d8" stroke-width="1.6" stroke-linecap="round" stroke-linejoin="round"/>
<path d="M536,1370 H554 Q562,1370 562,1378 V1430 Q562,1438 554,1438 H536 Q528,1438 528,1430 V1378 Q528,1370 536,1370 Z" fill="none" stroke="#8c8c8c" stroke-width="2.2" stroke-linecap="round" stroke-linejoin="round"/>
<path d="M604,1370 H616 Q622,1370 622,1376 V1392 H650 V1376 Q650,1370 656,1370 H668 Q675,1370 675,1377 V1431 Q675,1438 668,1438 H656 Q650,1438 650,1432 V1414 H622 V1432 Q622,1438 616,1438 H604 Q597,1438 597,1431 V1377 Q597,1370 604,1370 Z" transform="translate(1.8 2)" fill="none" stroke="#d8d8d8" stroke-width="1.6" stroke-linecap="round" stroke-linejoin="round"/>
<path d="M604,1370 H616 Q622,1370 622,1376 V1392 H650 V1376 Q650,1370 656,1370 H668 Q675,1370 675,1377 V1431 Q675,1438 668,1438 H656 Q650,1438 650,1432 V1414 H622 V1432 Q622,1438 616,1438 H604 Q597,1438 597,1431 V1377 Q597,1370 604,1370 Z" fill="none" stroke="#8c8c8c" stroke-width="2.2" stroke-linecap="round" stroke-linejoin="round"/>
<path d="M690,1440 V1405 Q690,1378 712,1372 L750,1366 Q760,1366 759,1376 V1388 Q758,1395 750,1396 L726,1400 Q712,1404 712,1418 V1440 Q710,1446 700,1446 Q690,1446 690,1440 Z" transform="translate(1.8 2)" fill="none" stroke="#d8d8d8" stroke-width="1.6" stroke-linecap="round" stroke-linejoin="round"/>
<path d="M690,1440 V1405 Q690,1378 712,1372 L750,1366 Q760,1366 759,1376 V1388 Q758,1395 750,1396 L726,1400 Q712,1404 712,1418 V1440 Q710,1446 700,1446 Q690,1446 690,1440 Z" fill="none" stroke="#8c8c8c" stroke-width="2.2" stroke-linecap="round" stroke-linejoin="round"/>
<polygon points="768.0,1358.0 776.0,1358.0 800.0,1480.0 792.0,1482.0" fill="#8a8a8a"/>
<polygon points="760.0,1358.0 765.0,1358.9 770.0,1359.9 774.0,1372.2 778.0,1387.8 782.0,1399.1 786.0,1411.4 790.0,1420.0 794.0,1418.0 788.0,1397.8 784.0,1386.1 780.0,1372.3 776.0,1357.9 770.5,1356.6 765.0,1359.3" fill="#fff"/>
<ellipse cx="790" cy="1490" rx="22" ry="14" fill="none" stroke="#fff" stroke-width="5"/>
<circle cx="75" cy="1451" r="2.5" fill="#eee" stroke="#777" stroke-width="1"/>
<circle cx="91" cy="1448" r="2.5" fill="#eee" stroke="#777" stroke-width="1"/>
<circle cx="146" cy="1447" r="2.5" fill="#eee" stroke="#777" stroke-width="1"/>
<circle cx="186" cy="1448" r="2.5" fill="#eee" stroke="#777" stroke-width="1"/>
<circle cx="250" cy="1450" r="2.5" fill="#eee" stroke="#777" stroke-width="1"/>
<circle cx="312" cy="1449" r="2.5" fill="#eee" stroke="#777" stroke-width="1"/>
<circle cx="342" cy="1451" r="2.5" fill="#eee" stroke="#777" stroke-width="1"/>
<circle cx="508" cy="1458" r="2.5" fill="#eee" stroke="#777" stroke-width="1"/>
<circle cx="569" cy="1465" r="2.5" fill="#eee" stroke="#777" stroke-width="1"/>
<circle cx="598" cy="1467" r="2.5" fill="#eee" stroke="#777" stroke-width="1"/>
<circle cx="673" cy="1474" r="2.5" fill="#eee" stroke="#777" stroke-width="1"/>
<circle cx="703" cy="1474" r="2.5" fill="#eee" stroke="#777" stroke-width="1"/>
<circle cx="735" cy="1482" r="2.5" fill="#eee" stroke="#777" stroke-width="1"/>
<polygon points="44.0,1475.1 49.2,1474.8 54.4,1477.8 59.6,1474.8 64.8,1476.3 70.0,1474.6 76.0,1478.1 82.0,1481.8 84.0,1598.5 92.0,1623.3 97.0,1640.0 97.0,1666.5 90.5,1667.3 84.0,1666.9 84.0,1705.0 44.0,1705.0 44.0,1477.6" fill="#fff"/>
<polygon points="51.0,1492.0 56.0,1489.9 61.0,1489.2 66.0,1490.0 70.0,1491.2 74.0,1492.1 78.0,1494.0 78.0,1568.0 74.0,1569.4 70.0,1567.8 66.0,1571.0 61.0,1570.1 56.0,1570.9 51.0,1570.9" fill="#b0b0b0"/>
<rect x="56" y="1500" width="2" height="55" fill="#c8c8c8"/>
<polygon points="45.0,1576.7 50.0,1572.1 55.0,1575.1 60.0,1573.1 65.0,1576.0 70.0,1574.9 75.0,1578.0 72.0,1620.0 68.0,1622.3 64.0,1624.6 60.0,1628.4 55.0,1631.2 50.0,1628.8 45.0,1629.4" fill="#a8a8a8"/>
<polygon points="44.0,1504.3 50.0,1500.0 50.0,1560.0 44.0,1553.6" fill="#a5a5a5"/>
<line x1="46" y1="1632" x2="66" y2="1700" stroke="#8f8f8f" stroke-width="4" stroke-dasharray="3 1.5"/>
<line x1="52" y1="1625" x2="72" y2="1690" stroke="#8f8f8f" stroke-width="2.5" stroke-dasharray="3 1.5"/>
<line x1="44" y1="1650" x2="56" y2="1703" stroke="#8f8f8f" stroke-width="3" stroke-dasharray="3 1.5"/>
<ellipse cx="75" cy="1400" rx="22" ry="14" fill="#c4c4c4" opacity="0.7"/>
<rect x="80" y="1478" width="11" height="144" rx="3" fill="#9e9e9e"/>
<circle cx="126" cy="1532" r="11" fill="none" stroke="#8c8c8c" stroke-width="2.5"/><circle cx="126" cy="1532" r="4" fill="#666"/>
<path d="M250,1572 V1505 Q252,1497 262,1498 L300,1540 V1505 Q302,1497 312,1498 Q320,1500 320,1508 V1565 Q318,1575 306,1570 L270,1532 V1570" transform="translate(1.8 2)" fill="none" stroke="#d8d8d8" stroke-width="1.6" stroke-linecap="round" stroke-linejoin="round"/>
<path d="M250,1572 V1505 Q252,1497 262,1498 L300,1540 V1505 Q302,1497 312,1498 Q320,1500 320,1508 V1565 Q318,1575 306,1570 L270,1532 V1570" fill="none" stroke="#8c8c8c" stroke-width="2.2" stroke-linecap="round" stroke-linejoin="round"/>
<path d="M353,1498 H377 Q385,1498 385,1506 V1564 Q385,1572 377,1572 H353 Q345,1572 345,1564 V1506 Q345,1498 353,1498 Z" transform="translate(1.8 2)" fill="none" stroke="#d8d8d8" stroke-width="1.6" stroke-linecap="round" stroke-linejoin="round"/>
<path d="M353,1498 H377 Q385,1498 385,1506 V1564 Q385,1572 377,1572 H353 Q345,1572 345,1564 V1506 Q345,1498 353,1498 Z" fill="none" stroke="#8c8c8c" stroke-width="2.2" stroke-linecap="round" stroke-linejoin="round"/>
<circle cx="454" cy="1515" r="14" fill="none" stroke="#999" stroke-width="2"/><circle cx="454" cy="1515" r="7" fill="none" stroke="#999" stroke-width="1.5"/>
<path d="M404,1540 L440,1578 Q448,1584 456,1576 L496,1540 Q500,1534 492,1532 Q486,1532 482,1538 L452,1566 L418,1532 Q410,1528 404,1536" transform="translate(1.8 2)" fill="none" stroke="#d8d8d8" stroke-width="1.6" stroke-linecap="round" stroke-linejoin="round"/>
<path d="M404,1540 L440,1578 Q448,1584 456,1576 L496,1540 Q500,1534 492,1532 Q486,1532 482,1538 L452,1566 L418,1532 Q410,1528 404,1536" fill="none" stroke="#8c8c8c" stroke-width="2.2" stroke-linecap="round" stroke-linejoin="round"/>
<path d="M535,1508 H559 Q567,1508 567,1516 V1564 Q567,1572 559,1572 H535 Q527,1572 527,1564 V1516 Q527,1508 535,1508 Z" transform="translate(1.8 2)" fill="none" stroke="#d8d8d8" stroke-width="1.6" stroke-linecap="round" stroke-linejoin="round"/>
<path d="M535,1508 H559 Q567,1508 567,1516 V1564 Q567,1572 559,1572 H535 Q527,1572 527,1564 V1516 Q527,1508 535,1508 Z" fill="none" stroke="#8c8c8c" stroke-width="2.2" stroke-linecap="round" stroke-linejoin="round"/>
<path d="M600,1572 V1530 Q600,1518 612,1518 H700 Q718,1518 718,1535 V1572" transform="translate(1.8 2)" fill="none" stroke="#d8d8d8" stroke-width="1.6" stroke-linecap="round" stroke-linejoin="round"/>
<path d="M600,1572 V1530 Q600,1518 612,1518 H700 Q718,1518 718,1535 V1572" fill="none" stroke="#8c8c8c" stroke-width="2.2" stroke-linecap="round" stroke-linejoin="round"/>
<path d="M640,1572 V1545 Q640,1536 650,1536 H668 Q678,1536 678,1545 V1572" transform="translate(1.8 2)" fill="none" stroke="#d8d8d8" stroke-width="1.6" stroke-linecap="round" stroke-linejoin="round"/>
<path d="M640,1572 V1545 Q640,1536 650,1536 H668 Q678,1536 678,1545 V1572" fill="none" stroke="#8c8c8c" stroke-width="2.2" stroke-linecap="round" stroke-linejoin="round"/>
<path d="M400,1497 V1580" fill="none" stroke="#8e8e8e" stroke-width="1.8" stroke-linecap="round" stroke-linejoin="round"/>
<path d="M596,1497 V1580" fill="none" stroke="#8e8e8e" stroke-width="1.8" stroke-linecap="round" stroke-linejoin="round"/>
<rect x="82" y="1553.1" width="694" height="1.8" fill="#7a7a7a"/>
<rect x="82" y="1554.9" width="694" height="1" fill="#c4c4c4"/>
<rect x="82" y="1558.6" width="694" height="1.8" fill="#7a7a7a"/>
<rect x="82" y="1560.4" width="694" height="1" fill="#c4c4c4"/>
<rect x="82" y="1569.6" width="694" height="1.8" fill="#7a7a7a"/>
<rect x="82" y="1571.4" width="694" height="1" fill="#c4c4c4"/>
<rect x="82" y="1574.1" width="694" height="1.8" fill="#7a7a7a"/>
<rect x="82" y="1575.9" width="694" height="1" fill="#c4c4c4"/>
<path d="M82,1595 L400,1590 L700,1589" fill="none" stroke="#a0a0a0" stroke-width="1.5" stroke-linecap="round" stroke-linejoin="round"/>
<polygon points="88.0,1620.4 93.0,1623.3 98.1,1621.1 103.1,1623.7 108.2,1621.0 113.2,1621.1 118.3,1622.0 123.3,1620.8 128.4,1621.5 133.4,1623.8 138.5,1623.5 143.5,1623.2 148.6,1622.5 153.6,1623.7 158.7,1623.8 163.7,1622.2 168.8,1622.9 173.8,1620.2 178.9,1622.9 183.9,1621.8 189.0,1623.0 194.0,1622.6 199.0,1621.1 204.1,1620.2 209.1,1623.7 214.2,1620.5 219.2,1621.9 224.3,1621.4 229.3,1621.2 234.4,1623.0 239.4,1623.9 244.5,1621.0 249.5,1622.6 254.6,1621.2 259.6,1622.2 264.7,1621.6 269.7,1620.7 274.8,1620.6 279.8,1620.8 284.9,1623.6 289.9,1622.0 295.0,1620.9 300.0,1623.6 305.0,1620.3 310.0,1614.5 315.0,1609.6 320.0,1606.1 325.0,1602.0 330.0,1599.4 335.0,1598.3 340.0,1598.7 345.0,1598.7 350.0,1599.8 355.0,1601.0 360.0,1600.3 365.0,1598.9 370.0,1598.8 375.0,1599.1 380.0,1598.4 385.0,1598.2 390.0,1597.0 395.0,1597.7 400.0,1600.4 405.0,1596.9 410.0,1598.3 415.0,1598.7 420.0,1599.5 425.0,1596.8 430.0,1596.9 435.0,1596.7 440.0,1597.2 445.0,1597.3 450.0,1599.2 455.0,1598.7 460.0,1598.7 465.0,1595.2 470.0,1595.1 475.0,1597.7 480.0,1598.3 485.0,1596.5 490.0,1596.9 495.0,1594.4 500.0,1595.9 505.0,1597.9 510.0,1597.4 515.0,1597.4 520.0,1597.8 525.0,1594.8 530.0,1594.1 535.0,1594.2 540.0,1595.5 545.0,1596.1 550.0,1597.0 555.0,1596.0 560.0,1595.6 565.0,1596.0 570.0,1594.6 575.0,1594.9 580.0,1592.8 585.0,1595.6 590.0,1593.3 595.0,1595.9 600.0,1594.7 605.0,1593.3 610.0,1592.5 615.0,1592.8 620.0,1594.3 625.0,1594.4 630.0,1592.0 635.0,1591.7 640.0,1593.4 645.0,1593.5 650.0,1592.6 655.0,1591.9 660.0,1593.3 665.0,1590.8 670.0,1591.9 675.0,1592.4 680.0,1594.3 685.0,1592.9 690.0,1593.8 695.0,1592.0 700.0,1590.9 705.0,1591.2 710.0,1594.2 715.0,1593.3 720.0,1591.9 725.0,1590.9 730.0,1593.0 735.0,1593.9 740.0,1593.0 745.0,1592.5 750.0,1594.3 755.0,1595.5 760.0,1592.9 765.0,1592.5 770.0,1594.0 775.0,1594.7 780.0,1596.1 785.0,1594.5 790.0,1597.2 795.0,1597.4 800.0,1596.8 805.0,1596.0 810.0,1599.5 815.0,1598.0 815.0,1705.0 810.0,1706.3 805.0,1704.9 800.0,1703.4 794.9,1707.0 789.9,1705.6 784.9,1706.2 779.9,1703.9 774.9,1705.0 769.9,1707.0 764.9,1704.6 759.8,1704.3 754.8,1705.3 749.8,1706.5 744.8,1703.6 739.8,1704.0 734.8,1704.0 729.8,1703.8 724.8,1706.0 719.7,1704.5 714.7,1705.3 709.7,1704.2 704.7,1706.4 699.7,1703.5 694.7,1705.7 689.7,1706.4 684.6,1706.0 679.6,1705.7 674.6,1705.5 669.6,1704.7 664.6,1703.9 659.6,1704.8 654.6,1705.8 649.5,1705.0 644.5,1703.4 639.5,1703.3 634.5,1704.1 629.5,1707.0 624.5,1706.5 619.5,1706.9 614.4,1704.3 609.4,1705.2 604.4,1703.1 599.4,1703.3 594.4,1704.0 589.4,1706.0 584.4,1703.8 579.4,1703.3 574.3,1706.1 569.3,1704.4 564.3,1704.3 559.3,1704.3 554.3,1705.4 549.3,1706.1 544.3,1706.3 539.2,1706.0 534.2,1706.2 529.2,1703.7 524.2,1706.7 519.2,1705.0 514.2,1704.7 509.2,1704.0 504.1,1704.5 499.1,1706.8 494.1,1706.8 489.1,1704.9 484.1,1703.9 479.1,1703.1 474.1,1706.8 469.0,1705.5 464.0,1706.7 459.0,1706.0 454.0,1703.0 449.0,1704.1 444.0,1704.3 439.0,1705.9 434.0,1704.0 428.9,1705.5 423.9,1706.8 418.9,1704.1 413.9,1704.4 408.9,1706.6 403.9,1706.0 398.9,1704.0 393.8,1706.7 388.8,1703.3 383.8,1703.1 378.8,1703.2 373.8,1706.1 368.8,1706.2 363.8,1704.6 358.7,1703.1 353.7,1706.6 348.7,1704.5 343.7,1703.8 338.7,1706.7 333.7,1704.5 328.7,1704.9 323.6,1703.2 318.6,1704.7 313.6,1706.3 308.6,1706.3 303.6,1704.4 298.6,1703.8 293.6,1706.9 288.6,1703.5 283.5,1706.8 278.5,1704.4 273.5,1704.1 268.5,1703.0 263.5,1703.7 258.5,1704.3 253.5,1704.5 248.4,1704.5 243.4,1705.7 238.4,1703.1 233.4,1706.0 228.4,1706.7 223.4,1703.7 218.4,1704.3 213.3,1706.7 208.3,1707.0 203.3,1705.9 198.3,1706.5 193.3,1706.6 188.3,1704.6 183.3,1703.2 178.2,1703.2 173.2,1703.6 168.2,1706.9 163.2,1703.9 158.2,1704.6 153.2,1703.6 148.2,1706.8 143.2,1705.7 138.1,1704.7 133.1,1703.9 128.1,1703.7 123.1,1705.0 118.1,1706.8 113.1,1704.2 108.1,1706.0 103.0,1703.9 98.0,1703.9 93.0,1706.3 88.0,1704.2" fill="#fff"/>
<polygon points="330.0,1593.4 334.0,1594.1 338.1,1585.4 342.1,1587.9 346.2,1586.2 350.2,1586.9 354.3,1594.7 358.3,1590.8 362.4,1594.3 366.4,1588.7 370.5,1593.7 374.5,1589.5 378.6,1587.6 382.6,1592.8 386.7,1594.5 390.7,1586.1 394.8,1591.0 398.8,1591.2 402.9,1587.2 406.9,1588.7 411.0,1586.4 415.0,1587.0 419.0,1587.5 423.1,1591.0 427.1,1591.5 431.2,1587.0 435.2,1585.1 439.3,1588.3 443.3,1591.8 447.4,1586.9 451.4,1588.1 455.5,1587.0 459.5,1593.0 463.6,1590.5 467.6,1585.6 471.7,1586.0 475.7,1589.0 479.8,1590.5 483.8,1591.4 487.9,1585.9 491.9,1586.6 496.0,1592.0 500.0,1589.1 504.0,1587.8 508.0,1588.0 512.0,1594.5 516.0,1588.0 520.0,1590.6 524.0,1588.5 528.0,1589.0 532.0,1593.5 536.0,1594.8 540.0,1588.4 544.0,1586.8 548.0,1592.0 552.0,1586.8 556.0,1584.8 560.0,1593.7 564.0,1588.9 568.0,1592.9 572.0,1588.7 576.0,1593.4 580.0,1589.2 584.0,1586.2 588.0,1584.7 592.0,1590.1 596.0,1590.9 600.0,1593.6 604.0,1585.4 608.0,1590.7 612.0,1588.1 616.0,1589.5 620.0,1585.9 624.0,1587.2 628.0,1589.6 632.0,1593.6 636.0,1585.4 640.0,1589.2 644.0,1592.3 648.0,1593.9 652.0,1586.2 656.0,1585.5 660.0,1593.6 664.0,1593.9 668.0,1589.0 672.0,1584.7 676.0,1593.4 680.0,1588.0 684.0,1593.1 688.0,1590.3 692.0,1592.3 696.0,1585.6 700.0,1589.0 700.0,1618.0 696.0,1618.6 692.0,1614.8 688.0,1621.8 684.0,1616.0 680.0,1623.6 676.0,1621.7 672.0,1624.6 668.0,1617.2 664.0,1617.7 660.0,1616.6 656.0,1619.7 652.0,1621.9 648.0,1619.8 644.0,1619.6 640.0,1627.0 636.0,1623.1 632.0,1619.9 628.0,1626.9 624.0,1621.8 620.0,1628.4 616.0,1621.3 612.0,1627.6 608.0,1623.9 604.0,1621.3 600.0,1630.3 596.0,1629.0 592.0,1622.8 588.0,1630.4 584.0,1630.9 580.0,1626.3 576.0,1631.3 572.0,1623.5 568.0,1629.8 564.0,1629.0 560.0,1631.8 556.0,1630.5 552.0,1623.3 548.0,1631.5 544.0,1625.9 540.0,1627.2 536.0,1622.8 532.0,1627.5 528.0,1630.2 524.0,1629.9 520.0,1623.4 516.0,1629.0 512.0,1623.2 508.0,1627.9 504.0,1627.3 500.0,1623.9 496.0,1627.5 492.0,1624.6 488.0,1624.6 484.0,1628.4 480.0,1625.6 476.0,1628.5 472.0,1631.9 468.0,1631.9 464.0,1626.8 460.0,1629.5 456.0,1630.9 452.0,1625.2 448.0,1629.5 444.0,1629.7 440.0,1632.0 436.0,1629.8 432.0,1631.5 428.0,1630.1 424.0,1629.1 420.0,1632.5 416.0,1631.9 412.0,1632.5 408.0,1627.9 404.0,1635.2 400.0,1627.4 395.9,1635.0 391.8,1633.6 387.6,1628.8 383.5,1637.9 379.4,1636.6 375.3,1632.3 371.2,1631.5 367.1,1634.6 362.9,1636.4 358.8,1635.7 354.7,1634.4 350.6,1634.5 346.5,1641.4 342.4,1642.1 338.2,1638.1 334.1,1636.8 330.0,1642.9" fill="#a8a8a8"/>
<circle cx="570.4" cy="1607.1" r="2.4" fill="#7a7a7a"/>
<circle cx="527.9" cy="1620.9" r="2.4" fill="#9a9a9a"/>
<circle cx="702.4" cy="1618.5" r="1.5" fill="#9a9a9a"/>
<circle cx="433.0" cy="1633.6" r="1.8" fill="#9a9a9a"/>
<circle cx="457.4" cy="1595.4" r="1.2" fill="#7a7a7a"/>
<circle cx="610.1" cy="1594.0" r="2.3" fill="#9a9a9a"/>
<circle cx="449.7" cy="1632.6" r="2.4" fill="#c8c8c8"/>
<circle cx="666.4" cy="1622.8" r="2.1" fill="#8a8a8a"/>
<circle cx="390.3" cy="1617.9" r="1.6" fill="#7a7a7a"/>
<circle cx="469.7" cy="1594.0" r="1.7" fill="#7a7a7a"/>
<circle cx="576.7" cy="1592.9" r="0.8" fill="#9a9a9a"/>
<circle cx="447.4" cy="1614.0" r="1.8" fill="#fff"/>
<circle cx="550.9" cy="1616.7" r="1.2" fill="#7a7a7a"/>
<circle cx="641.5" cy="1598.7" r="0.8" fill="#8a8a8a"/>
<circle cx="596.8" cy="1610.9" r="0.9" fill="#8a8a8a"/>
<circle cx="657.4" cy="1624.9" r="1.5" fill="#9a9a9a"/>
<circle cx="692.8" cy="1594.4" r="2.3" fill="#9a9a9a"/>
<circle cx="555.0" cy="1616.3" r="1.9" fill="#7a7a7a"/>
<circle cx="606.4" cy="1602.4" r="2.4" fill="#6e6e6e"/>
<circle cx="357.8" cy="1593.1" r="1.1" fill="#8a8a8a"/>
<circle cx="356.6" cy="1624.7" r="0.8" fill="#7a7a7a"/>
<circle cx="578.0" cy="1600.3" r="1.5" fill="#7a7a7a"/>
<circle cx="560.0" cy="1613.3" r="2.0" fill="#7a7a7a"/>
<circle cx="399.6" cy="1605.0" r="1.3" fill="#6e6e6e"/>
<circle cx="702.8" cy="1622.4" r="1.7" fill="#7a7a7a"/>
<circle cx="337.3" cy="1627.5" r="2.1" fill="#fff"/>
<circle cx="364.8" cy="1619.5" r="1.1" fill="#6e6e6e"/>
<circle cx="431.7" cy="1619.0" r="1.0" fill="#c8c8c8"/>
<circle cx="677.3" cy="1631.6" r="1.3" fill="#6e6e6e"/>
<circle cx="433.4" cy="1615.3" r="1.6" fill="#7a7a7a"/>
<circle cx="694.6" cy="1604.4" r="2.5" fill="#8a8a8a"/>
<circle cx="366.6" cy="1613.3" r="1.1" fill="#8a8a8a"/>
<circle cx="646.4" cy="1600.5" r="1.1" fill="#9a9a9a"/>
<circle cx="406.0" cy="1608.3" r="1.9" fill="#fff"/>
<circle cx="670.8" cy="1618.5" r="2.0" fill="#c8c8c8"/>
<circle cx="646.4" cy="1614.5" r="1.6" fill="#7a7a7a"/>
<circle cx="593.1" cy="1628.0" r="1.6" fill="#c8c8c8"/>
<circle cx="421.5" cy="1629.2" r="2.2" fill="#fff"/>
<circle cx="565.4" cy="1595.3" r="2.4" fill="#8a8a8a"/>
<circle cx="347.2" cy="1596.7" r="1.9" fill="#8a8a8a"/>
<circle cx="462.6" cy="1598.0" r="0.9" fill="#6e6e6e"/>
<circle cx="386.2" cy="1619.0" r="0.9" fill="#6e6e6e"/>
<circle cx="607.6" cy="1594.8" r="1.9" fill="#9a9a9a"/>
<circle cx="408.7" cy="1632.1" r="1.8" fill="#c8c8c8"/>
<circle cx="359.4" cy="1628.4" r="2.4" fill="#fff"/>
<circle cx="374.6" cy="1600.6" r="1.0" fill="#6e6e6e"/>
<circle cx="686.2" cy="1630.3" r="2.2" fill="#6e6e6e"/>
<circle cx="640.3" cy="1618.5" r="1.3" fill="#6e6e6e"/>
<circle cx="384.1" cy="1625.3" r="2.0" fill="#9a9a9a"/>
<circle cx="453.1" cy="1609.8" r="0.8" fill="#9a9a9a"/>
<circle cx="679.1" cy="1594.0" r="2.2" fill="#9a9a9a"/>
<circle cx="619.6" cy="1617.3" r="1.7" fill="#9a9a9a"/>
<circle cx="563.8" cy="1593.3" r="1.5" fill="#fff"/>
<circle cx="526.9" cy="1596.1" r="1.6" fill="#6e6e6e"/>
<circle cx="534.0" cy="1601.1" r="2.4" fill="#6e6e6e"/>
<circle cx="547.6" cy="1604.1" r="1.6" fill="#7a7a7a"/>
<circle cx="409.8" cy="1624.0" r="2.6" fill="#6e6e6e"/>
<circle cx="463.7" cy="1596.0" r="2.1" fill="#8a8a8a"/>
<circle cx="692.8" cy="1616.9" r="2.5" fill="#7a7a7a"/>
<circle cx="431.4" cy="1631.6" r="1.3" fill="#8a8a8a"/>
<circle cx="682.2" cy="1601.7" r="1.1" fill="#c8c8c8"/>
<circle cx="618.7" cy="1612.6" r="2.6" fill="#7a7a7a"/>
<circle cx="626.2" cy="1618.4" r="1.4" fill="#fff"/>
<circle cx="678.5" cy="1629.5" r="2.1" fill="#fff"/>
<circle cx="663.7" cy="1593.1" r="1.2" fill="#9a9a9a"/>
<circle cx="493.4" cy="1614.9" r="1.1" fill="#c8c8c8"/>
<circle cx="421.4" cy="1611.4" r="1.8" fill="#c8c8c8"/>
<circle cx="613.6" cy="1619.1" r="1.4" fill="#9a9a9a"/>
<circle cx="528.0" cy="1628.5" r="1.6" fill="#7a7a7a"/>
<circle cx="609.5" cy="1599.1" r="1.6" fill="#9a9a9a"/>
<circle cx="549.3" cy="1597.3" r="1.6" fill="#c8c8c8"/>
<circle cx="423.0" cy="1600.0" r="1.3" fill="#c8c8c8"/>
<circle cx="640.8" cy="1617.9" r="2.1" fill="#8a8a8a"/>
<circle cx="602.6" cy="1617.3" r="1.4" fill="#8a8a8a"/>
<circle cx="456.4" cy="1599.9" r="2.6" fill="#c8c8c8"/>
<circle cx="703.1" cy="1598.9" r="2.0" fill="#8a8a8a"/>
<circle cx="477.2" cy="1633.3" r="2.2" fill="#c8c8c8"/>
<circle cx="445.0" cy="1603.5" r="1.0" fill="#6e6e6e"/>
<circle cx="438.9" cy="1629.2" r="1.6" fill="#6e6e6e"/>
<circle cx="482.6" cy="1625.2" r="2.0" fill="#7a7a7a"/>
<circle cx="697.9" cy="1604.4" r="0.8" fill="#9a9a9a"/>
<circle cx="558.4" cy="1609.0" r="2.1" fill="#fff"/>
<circle cx="594.4" cy="1616.7" r="2.0" fill="#8a8a8a"/>
<circle cx="582.1" cy="1619.4" r="2.4" fill="#c8c8c8"/>
<circle cx="594.0" cy="1627.8" r="2.0" fill="#c8c8c8"/>
<circle cx="381.0" cy="1610.2" r="1.3" fill="#c8c8c8"/>
<circle cx="371.2" cy="1609.6" r="2.2" fill="#c8c8c8"/>
<circle cx="598.7" cy="1598.6" r="2.3" fill="#fff"/>
<circle cx="503.4" cy="1618.1" r="1.5" fill="#c8c8c8"/>
<circle cx="579.6" cy="1628.7" r="2.4" fill="#9a9a9a"/>
<circle cx="622.9" cy="1608.3" r="1.7" fill="#6e6e6e"/>
<circle cx="349.1" cy="1614.8" r="1.1" fill="#8a8a8a"/>
<circle cx="527.1" cy="1596.2" r="1.8" fill="#7a7a7a"/>
<circle cx="410.8" cy="1612.0" r="0.8" fill="#9a9a9a"/>
<circle cx="528.0" cy="1609.2" r="2.5" fill="#8a8a8a"/>
<circle cx="701.4" cy="1599.7" r="1.7" fill="#6e6e6e"/>
<circle cx="604.8" cy="1617.8" r="1.9" fill="#9a9a9a"/>
<circle cx="436.5" cy="1608.8" r="0.8" fill="#fff"/>
<circle cx="673.7" cy="1618.4" r="2.0" fill="#7a7a7a"/>
<circle cx="433.1" cy="1601.4" r="2.1" fill="#7a7a7a"/>
<circle cx="694.5" cy="1633.8" r="2.5" fill="#fff"/>
<circle cx="413.4" cy="1597.4" r="2.2" fill="#c8c8c8"/>
<circle cx="406.5" cy="1619.0" r="2.1" fill="#8a8a8a"/>
<circle cx="465.7" cy="1618.8" r="2.3" fill="#fff"/>
<circle cx="508.2" cy="1604.4" r="1.8" fill="#8a8a8a"/>
<circle cx="623.5" cy="1611.7" r="2.2" fill="#8a8a8a"/>
<circle cx="433.9" cy="1607.8" r="1.3" fill="#fff"/>
<circle cx="586.2" cy="1612.2" r="2.2" fill="#9a9a9a"/>
<circle cx="467.5" cy="1619.5" r="1.4" fill="#fff"/>
<circle cx="493.5" cy="1618.8" r="2.0" fill="#9a9a9a"/>
<circle cx="391.5" cy="1604.7" r="1.5" fill="#6e6e6e"/>
<circle cx="641.3" cy="1630.0" r="2.2" fill="#8a8a8a"/>
<circle cx="531.3" cy="1606.5" r="1.8" fill="#c8c8c8"/>
<circle cx="339.2" cy="1632.0" r="2.0" fill="#9a9a9a"/>
<circle cx="560.0" cy="1616.3" r="2.3" fill="#8a8a8a"/>
<circle cx="622.2" cy="1606.6" r="1.1" fill="#fff"/>
<circle cx="627.9" cy="1599.1" r="2.4" fill="#7a7a7a"/>
<circle cx="696.6" cy="1595.8" r="2.4" fill="#7a7a7a"/>
<circle cx="626.6" cy="1627.2" r="1.2" fill="#c8c8c8"/>
<circle cx="413.8" cy="1595.3" r="2.3" fill="#c8c8c8"/>
<circle cx="661.6" cy="1615.3" r="1.3" fill="#8a8a8a"/>
<circle cx="641.0" cy="1611.9" r="1.8" fill="#fff"/>
<circle cx="507.8" cy="1598.1" r="1.7" fill="#fff"/>
<circle cx="395.9" cy="1617.2" r="2.1" fill="#8a8a8a"/>
<circle cx="646.1" cy="1611.7" r="1.8" fill="#c8c8c8"/>
<circle cx="444.8" cy="1611.6" r="1.6" fill="#c8c8c8"/>
<circle cx="362.9" cy="1618.8" r="1.9" fill="#6e6e6e"/>
<circle cx="342.6" cy="1593.9" r="2.1" fill="#9a9a9a"/>
<circle cx="634.2" cy="1595.9" r="1.7" fill="#8a8a8a"/>
<circle cx="347.5" cy="1622.2" r="1.9" fill="#9a9a9a"/>
<circle cx="370.0" cy="1619.7" r="1.4" fill="#7a7a7a"/>
<circle cx="540.0" cy="1630.3" r="1.3" fill="#9a9a9a"/>
<circle cx="491.3" cy="1615.3" r="2.3" fill="#9a9a9a"/>
<circle cx="466.4" cy="1612.7" r="1.4" fill="#9a9a9a"/>
<circle cx="658.0" cy="1606.5" r="1.2" fill="#fff"/>
<circle cx="628.0" cy="1605.9" r="1.4" fill="#9a9a9a"/>
<circle cx="382.2" cy="1632.9" r="1.0" fill="#6e6e6e"/>
<circle cx="482.6" cy="1615.3" r="1.5" fill="#7a7a7a"/>
<circle cx="353.4" cy="1604.6" r="0.8" fill="#8a8a8a"/>
<circle cx="639.1" cy="1612.0" r="2.2" fill="#6e6e6e"/>
<circle cx="626.9" cy="1630.2" r="1.9" fill="#7a7a7a"/>
<circle cx="389.4" cy="1620.3" r="2.0" fill="#c8c8c8"/>
<circle cx="365.7" cy="1593.7" r="1.9" fill="#c8c8c8"/>
<circle cx="617.2" cy="1596.3" r="1.1" fill="#6e6e6e"/>
<circle cx="491.0" cy="1596.2" r="2.5" fill="#6e6e6e"/>
<circle cx="471.5" cy="1626.5" r="2.2" fill="#7a7a7a"/>
<circle cx="597.7" cy="1628.2" r="1.1" fill="#6e6e6e"/>
<circle cx="452.8" cy="1610.1" r="2.0" fill="#6e6e6e"/>
<circle cx="519.2" cy="1613.9" r="2.3" fill="#fff"/>
<circle cx="547.9" cy="1630.6" r="1.6" fill="#6e6e6e"/>
<circle cx="586.6" cy="1616.9" r="2.6" fill="#c8c8c8"/>
<circle cx="697.9" cy="1612.0" r="1.5" fill="#6e6e6e"/>
<circle cx="365.7" cy="1611.8" r="2.4" fill="#c8c8c8"/>
<circle cx="340.7" cy="1592.2" r="2.0" fill="#6e6e6e"/>
<circle cx="700.1" cy="1628.1" r="1.2" fill="#6e6e6e"/>
<circle cx="382.7" cy="1592.7" r="2.1" fill="#8a8a8a"/>
<circle cx="501.8" cy="1623.3" r="2.5" fill="#9a9a9a"/>
<circle cx="621.4" cy="1622.0" r="2.3" fill="#c8c8c8"/>
<circle cx="616.0" cy="1604.3" r="1.8" fill="#fff"/>
<circle cx="505.4" cy="1631.2" r="1.3" fill="#6e6e6e"/>
<circle cx="600.4" cy="1592.5" r="0.8" fill="#c8c8c8"/>
<circle cx="589.1" cy="1618.0" r="1.5" fill="#9a9a9a"/>
<circle cx="604.9" cy="1599.0" r="2.3" fill="#fff"/>
<circle cx="560.3" cy="1605.3" r="2.5" fill="#c8c8c8"/>
<circle cx="497.3" cy="1620.4" r="1.1" fill="#6e6e6e"/>
<circle cx="469.4" cy="1619.1" r="1.9" fill="#fff"/>
<circle cx="511.5" cy="1624.7" r="1.6" fill="#9a9a9a"/>
<circle cx="625.3" cy="1615.8" r="1.3" fill="#6e6e6e"/>
<circle cx="565.1" cy="1619.3" r="2.2" fill="#7a7a7a"/>
<circle cx="457.9" cy="1617.4" r="2.6" fill="#8a8a8a"/>
<circle cx="557.4" cy="1605.0" r="1.6" fill="#8a8a8a"/>
<circle cx="474.4" cy="1620.8" r="1.9" fill="#8a8a8a"/>
<circle cx="633.8" cy="1603.9" r="0.8" fill="#9a9a9a"/>
<circle cx="434.2" cy="1598.6" r="2.5" fill="#6e6e6e"/>
<circle cx="441.8" cy="1597.9" r="2.4" fill="#7a7a7a"/>
<circle cx="389.4" cy="1633.0" r="2.2" fill="#7a7a7a"/>
<circle cx="588.3" cy="1630.4" r="1.4" fill="#6e6e6e"/>
<circle cx="534.8" cy="1612.4" r="1.5" fill="#c8c8c8"/>
<circle cx="679.7" cy="1601.8" r="1.9" fill="#c8c8c8"/>
<circle cx="481.3" cy="1621.8" r="2.5" fill="#7a7a7a"/>
<circle cx="612.9" cy="1625.2" r="1.6" fill="#6e6e6e"/>
<circle cx="533.4" cy="1606.9" r="0.9" fill="#fff"/>
<circle cx="549.4" cy="1629.7" r="2.4" fill="#7a7a7a"/>
<circle cx="453.8" cy="1613.3" r="1.2" fill="#8a8a8a"/>
<circle cx="406.2" cy="1599.6" r="2.1" fill="#9a9a9a"/>
<circle cx="548.8" cy="1607.1" r="2.2" fill="#8a8a8a"/>
<circle cx="426.1" cy="1630.7" r="1.7" fill="#6e6e6e"/>
<circle cx="472.5" cy="1611.5" r="0.9" fill="#9a9a9a"/>
<circle cx="556.0" cy="1606.5" r="1.7" fill="#6e6e6e"/>
<circle cx="369.8" cy="1600.6" r="2.4" fill="#7a7a7a"/>
<circle cx="514.9" cy="1615.8" r="1.3" fill="#9a9a9a"/>
<circle cx="492.6" cy="1631.8" r="2.2" fill="#7a7a7a"/>
<circle cx="691.5" cy="1602.7" r="0.9" fill="#8a8a8a"/>
<circle cx="703.0" cy="1607.9" r="0.8" fill="#6e6e6e"/>
<circle cx="541.2" cy="1628.6" r="1.6" fill="#6e6e6e"/>
<circle cx="654.3" cy="1618.9" r="2.5" fill="#c8c8c8"/>
<circle cx="689.9" cy="1602.8" r="1.8" fill="#c8c8c8"/>
<circle cx="368.2" cy="1630.7" r="1.7" fill="#8a8a8a"/>
<circle cx="500.9" cy="1598.7" r="2.5" fill="#c8c8c8"/>
<circle cx="417.0" cy="1593.6" r="1.3" fill="#9a9a9a"/>
<circle cx="356.9" cy="1615.2" r="0.9" fill="#6e6e6e"/>
<circle cx="430.4" cy="1613.6" r="2.1" fill="#fff"/>
<circle cx="355.6" cy="1598.1" r="2.2" fill="#8a8a8a"/>
<circle cx="585.4" cy="1604.5" r="1.9" fill="#c8c8c8"/>
<circle cx="374.0" cy="1605.6" r="1.3" fill="#6e6e6e"/>
<circle cx="473.7" cy="1607.9" r="1.6" fill="#8a8a8a"/>
<circle cx="673.3" cy="1629.5" r="1.6" fill="#8a8a8a"/>
<circle cx="630.6" cy="1598.6" r="2.3" fill="#6e6e6e"/>
<circle cx="680.6" cy="1628.4" r="2.4" fill="#8a8a8a"/>
<circle cx="623.0" cy="1632.2" r="2.5" fill="#fff"/>
<circle cx="646.6" cy="1618.4" r="1.6" fill="#9a9a9a"/>
<circle cx="454.3" cy="1601.8" r="1.0" fill="#9a9a9a"/>
<circle cx="387.8" cy="1601.3" r="0.9" fill="#c8c8c8"/>
<circle cx="502.0" cy="1629.4" r="1.6" fill="#8a8a8a"/>
<circle cx="433.6" cy="1609.3" r="1.1" fill="#9a9a9a"/>
<circle cx="546.3" cy="1604.5" r="2.2" fill="#9a9a9a"/>
<circle cx="516.7" cy="1605.4" r="2.4" fill="#6e6e6e"/>
<circle cx="391.7" cy="1613.6" r="1.9" fill="#c8c8c8"/>
<circle cx="677.3" cy="1615.5" r="2.3" fill="#6e6e6e"/>
<circle cx="430.4" cy="1600.5" r="1.5" fill="#9a9a9a"/>
<polygon points="96.0,1633.5 101.1,1633.2 106.2,1630.6 111.3,1631.1 116.4,1632.8 121.5,1630.2 126.6,1632.1 131.7,1630.7 136.8,1632.6 141.9,1629.6 147.0,1631.9 152.1,1630.4 157.2,1629.7 162.3,1629.2 167.4,1631.6 172.5,1630.6 177.6,1629.5 182.7,1630.1 187.8,1631.4 192.9,1629.3 198.0,1630.2 203.1,1628.8 208.2,1628.8 213.3,1630.5 218.4,1630.2 223.5,1628.6 228.6,1628.1 233.7,1628.1 238.8,1629.5 243.9,1629.1 249.0,1628.3 254.1,1628.0 259.2,1629.1 264.3,1629.3 269.4,1629.5 274.5,1628.7 279.6,1627.5 284.7,1627.0 289.8,1628.9 294.9,1627.8 300.0,1628.0 300.0,1654.0 294.9,1653.2 289.8,1655.5 284.7,1652.7 279.6,1654.3 274.5,1654.3 269.4,1654.3 264.3,1654.3 259.2,1655.8 254.1,1655.6 249.0,1653.2 243.9,1655.3 238.8,1654.2 233.7,1655.3 228.6,1654.2 223.5,1655.8 218.4,1655.7 213.3,1655.5 208.2,1653.8 203.1,1655.0 198.0,1654.8 192.9,1655.1 187.8,1653.6 182.7,1655.4 177.6,1654.8 172.5,1654.2 167.4,1654.9 162.3,1656.3 157.2,1654.5 152.1,1654.7 147.0,1656.6 141.9,1655.5 136.8,1656.8 131.7,1654.2 126.6,1655.7 121.5,1656.8 116.4,1656.8 111.3,1655.4 106.2,1656.8 101.1,1654.6 96.0,1656.7" fill="#a9a9a9"/>
<polygon points="84.0,1665.0 89.0,1664.8 94.0,1665.2 99.1,1666.8 104.1,1664.4 109.1,1664.6 114.1,1666.4 119.1,1664.8 124.2,1664.2 129.2,1665.9 134.2,1665.8 139.2,1665.6 144.2,1666.1 149.3,1664.3 154.3,1666.5 159.3,1666.0 164.3,1664.0 169.3,1664.2 174.4,1665.2 179.4,1665.2 184.4,1664.5 189.4,1664.0 194.4,1664.8 199.5,1664.0 204.5,1665.3 209.5,1666.1 214.5,1663.9 219.6,1665.1 224.6,1665.6 229.6,1663.8 234.6,1665.8 239.6,1666.0 244.7,1664.4 249.7,1664.4 254.7,1665.6 259.7,1664.6 264.7,1664.2 269.8,1665.8 274.8,1665.3 279.8,1663.9 284.8,1663.6 289.8,1663.8 294.9,1664.1 299.9,1665.7 304.9,1665.1 309.9,1665.4 314.9,1665.1 320.0,1665.1 325.0,1662.7 330.0,1664.0 330.0,1705.0 325.0,1704.2 320.0,1704.4 314.9,1704.7 309.9,1704.4 304.9,1703.9 299.9,1703.9 294.9,1703.9 289.8,1705.1 284.8,1704.9 279.8,1704.3 274.8,1705.0 269.8,1706.4 264.7,1705.3 259.7,1703.9 254.7,1705.4 249.7,1704.4 244.7,1704.4 239.6,1706.4 234.6,1704.8 229.6,1705.1 224.6,1704.3 219.6,1705.4 214.5,1706.3 209.5,1705.1 204.5,1704.3 199.5,1705.5 194.4,1704.3 189.4,1705.4 184.4,1703.6 179.4,1706.2 174.4,1706.2 169.3,1705.9 164.3,1705.4 159.3,1706.3 154.3,1705.8 149.3,1706.4 144.2,1703.9 139.2,1703.6 134.2,1705.0 129.2,1704.8 124.2,1703.7 119.1,1705.1 114.1,1704.6 109.1,1705.4 104.1,1704.8 99.1,1704.2 94.0,1706.3 89.0,1706.4 84.0,1705.1" fill="#b2b2b2"/>
<polygon points="336.0,1642.8 341.0,1644.1 346.0,1644.9 351.0,1644.1 356.0,1644.0 361.0,1644.2 366.0,1642.7 371.0,1644.2 376.0,1643.4 381.0,1643.6 386.0,1643.7 391.0,1643.2 396.0,1642.7 401.0,1642.4 406.0,1642.3 411.0,1643.1 416.0,1642.7 421.0,1643.2 426.0,1641.5 431.0,1642.4 436.0,1643.9 441.0,1642.0 446.0,1642.8 451.0,1642.6 456.0,1641.9 461.0,1644.0 466.0,1641.8 471.0,1643.2 476.0,1641.3 481.0,1641.0 486.0,1643.3 491.0,1642.0 496.0,1640.8 501.0,1641.7 506.0,1641.8 511.0,1642.6 516.0,1640.7 521.0,1641.0 526.0,1643.1 531.0,1642.4 536.0,1640.6 541.0,1641.1 546.0,1641.0 551.0,1641.9 556.0,1641.7 561.0,1642.3 566.0,1642.2 571.0,1641.2 576.0,1641.8 581.0,1641.8 586.0,1641.0 586.0,1688.0 581.0,1688.6 575.9,1686.7 570.9,1686.2 565.9,1684.0 560.8,1683.2 555.8,1685.2 550.7,1683.1 545.7,1681.8 540.7,1683.4 535.6,1682.3 530.6,1681.7 525.6,1679.5 520.5,1680.6 515.5,1677.4 510.4,1678.2 505.4,1677.6 500.4,1675.6 495.3,1675.4 490.3,1674.4 485.3,1674.5 480.2,1674.0 475.2,1674.4 470.1,1673.5 465.1,1671.5 460.1,1671.0 455.0,1670.8 450.0,1669.7 444.8,1669.4 439.6,1670.7 434.5,1669.9 429.3,1669.9 424.1,1669.6 418.9,1670.3 413.7,1671.1 408.5,1670.9 403.4,1669.8 398.2,1670.2 393.0,1671.4 387.8,1670.0 382.6,1670.3 377.5,1670.8 372.3,1668.5 367.1,1671.1 361.9,1668.9 356.7,1671.2 351.5,1670.6 346.4,1670.9 341.2,1669.9 336.0,1670.8" fill="#b0b0b0"/>
<polygon points="290.0,1672.8 295.1,1672.1 300.2,1673.5 305.3,1672.1 310.4,1672.1 315.6,1672.6 320.7,1671.7 325.8,1671.6 330.9,1672.3 336.0,1672.0 336.0,1705.0 330.9,1705.2 325.8,1705.2 320.7,1704.7 315.6,1704.6 310.4,1703.8 305.3,1705.1 300.2,1705.5 295.1,1706.3 290.0,1704.6" fill="#b6b6b6"/>
<polygon points="630.0,1660.8 635.0,1660.8 640.0,1659.8 645.0,1659.6 650.0,1659.9 655.0,1660.6 660.0,1659.2 665.0,1659.5 670.0,1660.0 675.0,1658.6 680.0,1658.8 685.0,1660.1 690.0,1659.7 695.0,1659.0 700.0,1658.1 705.0,1659.6 710.0,1659.1 715.0,1659.3 720.0,1659.5 725.0,1659.3 730.0,1658.2 735.0,1657.6 740.0,1657.8 745.0,1658.2 750.0,1658.1 755.0,1658.0 755.0,1705.0 750.0,1705.1 745.0,1706.0 740.0,1705.1 735.0,1705.3 730.0,1704.5 725.0,1705.1 720.0,1705.0 715.0,1704.4 710.0,1705.3 705.0,1705.2 700.0,1705.7 695.0,1704.6 690.0,1704.0 685.0,1705.4 680.0,1704.6 675.0,1705.6 670.0,1704.8 665.0,1704.1 660.0,1705.3 655.0,1706.0 650.0,1704.7 645.0,1705.2 640.0,1705.3 635.0,1704.4 630.0,1704.4" fill="#b0b0b0"/>
<polygon points="587.0,1682.8 592.4,1682.2 597.8,1682.3 603.1,1683.5 608.5,1682.2 613.9,1682.2 619.2,1682.3 624.6,1683.0 630.0,1683.0 630.0,1702.0 624.6,1702.4 619.2,1701.6 613.9,1702.5 608.5,1701.0 603.1,1701.1 597.8,1702.6 592.4,1702.2 587.0,1702.6" fill="#b4b4b4"/>
<polygon points="755.0,1682.7 760.0,1682.5 765.0,1682.9 770.0,1682.7 775.0,1684.5 780.0,1684.0 785.0,1683.7 790.0,1684.1 795.0,1684.1 800.0,1683.6 805.0,1685.4 810.0,1685.0 815.0,1685.0 815.0,1702.0 810.0,1702.2 805.0,1701.6 800.0,1702.6 795.0,1702.8 790.0,1701.6 785.0,1702.7 780.0,1702.9 775.0,1701.1 770.0,1701.5 765.0,1702.2 760.0,1701.9 755.0,1702.9" fill="#b4b4b4"/>
<polygon points="712.0,1625.4 717.3,1624.4 722.5,1626.1 727.8,1624.3 733.1,1625.1 738.4,1626.5 743.6,1625.3 748.9,1626.0 754.2,1628.0 759.5,1627.2 764.7,1628.5 770.0,1627.2 775.0,1626.6 780.0,1626.7 785.0,1625.7 790.0,1627.6 795.0,1625.1 800.0,1625.5 805.0,1623.7 810.0,1624.5 815.0,1624.0 815.0,1642.0 810.0,1642.3 805.0,1641.8 800.0,1644.3 795.0,1643.1 790.0,1643.0 785.0,1645.3 780.0,1644.1 775.0,1645.1 770.0,1646.5 764.7,1644.4 759.5,1644.8 754.2,1644.8 748.9,1644.3 743.6,1644.3 738.4,1644.5 733.1,1645.7 727.8,1643.4 722.5,1643.1 717.3,1643.9 712.0,1643.7" fill="#a9a9a9"/>
<circle cx="735" cy="1603" r="10" fill="#a5a5a5" stroke="#888" stroke-width="2"/>
<polygon points="307.0,1601.3 316.0,1601.0 316.0,1643.0 307.0,1643.3" fill="#a0a0a0"/>
<polygon points="272.0,1629.0 277.5,1629.2 283.0,1630.0 288.5,1628.6 294.0,1630.0 299.5,1627.5 305.0,1628.0 305.0,1656.0 299.5,1656.5 294.0,1654.6 288.5,1655.4 283.0,1654.5 277.5,1655.2 272.0,1656.4" fill="#ababab"/>
<polygon points="782.0,1539.0 786.5,1543.6 791.0,1544.4 795.5,1545.5 800.0,1547.0 805.0,1547.8 810.0,1545.5 815.0,1546.0 815.0,1553.0 810.0,1553.5 805.0,1556.1 800.0,1555.1 795.5,1554.2 791.0,1552.1 786.5,1548.5 782.0,1549.5" fill="#fff"/>
<polygon points="776.0,1505.6 780.7,1504.6 785.3,1502.9 790.0,1503.0 790.0,1590.0 785.3,1588.7 780.7,1588.3 776.0,1589.6" fill="#afafaf"/></g>
<use href="#photo" x="795" y="0"/>
<polygon points="892.0,1469.0 900.0,1468.0 900.0,1441.0 904.0,1440.0 917.0,1440.0 921.0,1444.0 921.0,1468.0 970.0,1467.0 970.0,1447.0 974.0,1444.0 990.0,1444.0 994.0,1448.0 994.0,1467.0 1096.0,1469.0 1096.0,1447.0 1100.0,1443.0 1116.0,1443.0 1120.0,1447.0 1120.0,1470.0 1200.0,1472.0 1200.0,1454.0 1204.0,1450.5 1219.0,1450.5 1223.0,1454.0 1223.0,1474.0 1354.0,1482.0 1354.0,1464.0 1358.0,1460.3 1373.0,1460.3 1377.5,1464.0 1377.5,1485.0 1519.0,1494.0 1519.0,1478.0 1523.0,1474.0 1539.0,1474.0 1543.7,1478.0 1543.7,1497.3 1565.0,1501.0 1572.0,1506.0 1572.0,1552.7 1529.0,1579.0 1472.3,1582.0 1472.3,1610.0 1469.0,1613.0 1455.0,1613.0 1451.4,1610.0 1451.4,1582.5 1311.0,1583.5 1311.0,1611.0 1307.0,1614.3 1294.0,1614.3 1290.0,1611.0 1290.0,1583.5 1168.0,1584.0 1168.0,1613.0 1164.0,1616.7 1151.0,1616.7 1147.0,1613.0 1147.0,1584.5 925.2,1584.7 925.2,1618.0 921.0,1621.7 908.0,1621.7 904.3,1618.0 904.3,1584.7 892.0,1584.7" fill="#5f5f5f" stroke="#2e2e2e" stroke-width="1.5" stroke-linejoin="round"/>
<polyline points="892.0,1584.7 1529.0,1580.0 1572.0,1552.7" fill="none" stroke="#333" stroke-width="3"/>
<rect x="892" y="1469" width="5" height="116" fill="#444"/>
<rect x="1566" y="1503" width="6" height="50" fill="#444"/>
<rect x="948.5" y="1510.5" width="489.5" height="53.5" rx="12" fill="#606060" stroke="#262626" stroke-width="3"/>
<polygon points="978.0,1530.5 991.0,1538.0 978.0,1545.5" fill="#bdbdbd"/>
<circle cx="963.4" cy="1538" r="2" fill="#aaa"/><circle cx="1423" cy="1534.2" r="2" fill="#aaa"/>
<rect x="905.5" y="1452.5" width="10" height="5" rx="2.5" fill="#e8e8e8" stroke="#333" stroke-width="0.8"/>
<rect x="977" y="1448.5" width="10" height="5" rx="2.5" fill="#e8e8e8" stroke="#333" stroke-width="0.8"/>
<rect x="1103" y="1447.5" width="10" height="5" rx="2.5" fill="#e8e8e8" stroke="#333" stroke-width="0.8"/>
<rect x="1206.5" y="1455.5" width="10" height="5" rx="2.5" fill="#e8e8e8" stroke="#333" stroke-width="0.8"/>
<rect x="1361" y="1465.5" width="10" height="5" rx="2.5" fill="#e8e8e8" stroke="#333" stroke-width="0.8"/>
<rect x="1526" y="1478.5" width="10" height="5" rx="2.5" fill="#e8e8e8" stroke="#333" stroke-width="0.8"/>
<rect x="912.7" y="1606" width="4" height="12" rx="2" fill="#cfcfcf" stroke="#333" stroke-width="0.7"/>
<rect x="1155.5" y="1602" width="4" height="12" rx="2" fill="#cfcfcf" stroke="#333" stroke-width="0.7"/>
<rect x="1298.5" y="1600" width="4" height="12" rx="2" fill="#cfcfcf" stroke="#333" stroke-width="0.7"/>
<rect x="1459.8" y="1598" width="4" height="12" rx="2" fill="#cfcfcf" stroke="#333" stroke-width="0.7"/>
<g id="arrows"><polygon points="103.5,1388.0 123.3,1388.0 123.3,1416.4 133.6,1416.4 113.4,1443.5 93.0,1416.4 103.5,1416.4" fill="#fff" stroke="#111" stroke-width="2" stroke-linejoin="miter"/>
<polygon points="176.0,1388.0 196.0,1388.0 196.0,1416.4 206.3,1416.4 186.0,1443.5 165.6,1416.4 176.0,1416.4" fill="#fff" stroke="#111" stroke-width="2" stroke-linejoin="miter"/>
<polygon points="302.3,1388.0 322.0,1388.0 322.0,1416.4 333.1,1416.4 312.1,1443.5 292.5,1416.4 302.3,1416.4" fill="#fff" stroke="#111" stroke-width="2" stroke-linejoin="miter"/>
<polygon points="404.5,1395.5 424.7,1395.5 424.7,1423.8 435.3,1423.8 414.6,1451.0 394.7,1423.8 404.5,1423.8" fill="#fff" stroke="#111" stroke-width="2" stroke-linejoin="miter"/>
<polygon points="559.2,1404.0 578.9,1404.0 578.9,1432.4 589.5,1432.4 569.0,1459.5 548.0,1432.4 559.2,1432.4" fill="#fff" stroke="#111" stroke-width="2" stroke-linejoin="miter"/>
<polygon points="725.4,1414.5 745.1,1414.5 745.1,1442.3 755.5,1442.3 735.2,1469.4 715.0,1442.3 725.4,1442.3" fill="#fff" stroke="#111" stroke-width="2" stroke-linejoin="miter"/>
<polygon points="107.7,1674.0 128.7,1674.0 128.7,1646.8 139.8,1646.8 118.2,1618.5 99.0,1646.8 107.7,1646.8" fill="#fff" stroke="#111" stroke-width="2" stroke-linejoin="miter"/>
<polygon points="351.6,1671.5 371.3,1671.5 371.3,1644.4 381.0,1644.4 361.5,1616.0 341.7,1644.4 351.6,1644.4" fill="#fff" stroke="#111" stroke-width="2" stroke-linejoin="miter"/>
<polygon points="493.4,1671.5 513.6,1671.5 513.6,1644.4 523.4,1644.4 503.5,1616.0 484.5,1644.4 493.4,1644.4" fill="#fff" stroke="#111" stroke-width="2" stroke-linejoin="miter"/>
<polygon points="654.0,1671.5 674.2,1671.5 674.2,1644.4 684.8,1644.4 664.1,1616.0 644.6,1644.4 654.0,1644.4" fill="#fff" stroke="#111" stroke-width="2" stroke-linejoin="miter"/>
<text x="113.4" y="1422.9" text-anchor="middle" font-family="Liberation Sans" font-weight="bold" font-size="20" fill="#111" stroke="#111" stroke-width="0.6">Б</text>
<text x="186.0" y="1422.9" text-anchor="middle" font-family="Liberation Sans" font-weight="bold" font-size="20" fill="#111" stroke="#111" stroke-width="0.6">А</text>
<text x="312.1" y="1422.9" text-anchor="middle" font-family="Liberation Sans" font-weight="bold" font-size="20" fill="#111" stroke="#111" stroke-width="0.6">А</text>
<text x="414.6" y="1430.3" text-anchor="middle" font-family="Liberation Sans" font-weight="bold" font-size="20" fill="#111" stroke="#111" stroke-width="0.6">А</text>
<text x="569.0" y="1438.9" text-anchor="middle" font-family="Liberation Sans" font-weight="bold" font-size="20" fill="#111" stroke="#111" stroke-width="0.6">А</text>
<text x="735.2" y="1448.8" text-anchor="middle" font-family="Liberation Sans" font-weight="bold" font-size="20" fill="#111" stroke="#111" stroke-width="0.6">А</text>
<text x="118.2" y="1653.3" text-anchor="middle" font-family="Liberation Sans" font-weight="bold" font-size="20" fill="#111" stroke="#111" stroke-width="0.6">В</text>
<text x="361.5" y="1650.9" text-anchor="middle" font-family="Liberation Sans" font-weight="bold" font-size="20" fill="#111" stroke="#111" stroke-width="0.6">Г</text>
<text x="503.5" y="1650.9" text-anchor="middle" font-family="Liberation Sans" font-weight="bold" font-size="20" fill="#111" stroke="#111" stroke-width="0.6">Г</text>
<text x="664.1" y="1650.9" text-anchor="middle" font-family="Liberation Sans" font-weight="bold" font-size="20" fill="#111" stroke="#111" stroke-width="0.6">Г</text></g>
<use href="#arrows" x="795" y="0"/>
</svg>

<div class="x s" style="left:76.4px;top:73.8px;font-size:34.88px;transform:scaleX(0.8834)">ИНСТРУКЦИЯ ПО УСТАНОВКЕ</div>
<div class="x s" style="left:76.3px;top:114.0px;font-size:34.88px;font-weight:bold;transform:scaleX(0.9846)">ЗАЩИТА ТОПЛИВНЫХ ТРУБОК</div>
<div class="x s" style="left:721.6px;top:119.0px;font-size:35.47px;font-weight:bold;">1</div>
<div class="x s" style="left:742.7px;top:119.0px;font-size:35.47px;font-weight:bold;">1</div>
<div class="x s" style="left:764.1px;top:119.0px;font-size:35.47px;font-weight:bold;">1</div>
<div class="x s" style="left:784.3px;top:119.0px;font-size:35.47px;font-weight:bold;">.</div>
<div class="x s" style="left:795.2px;top:119.0px;font-size:35.47px;font-weight:bold;">0</div>
<div class="x s" style="left:816.1px;top:119.0px;font-size:35.47px;font-weight:bold;">0</div>
<div class="x s" style="left:837.6px;top:119.0px;font-size:35.47px;font-weight:bold;">9</div>
<div class="x s" style="left:858.7px;top:119.0px;font-size:35.47px;font-weight:bold;">4</div>
<div class="x s" style="left:880.8px;top:119.0px;font-size:35.47px;font-weight:bold;">1</div>
<div class="x s" style="left:900.8px;top:119.0px;font-size:35.47px;font-weight:bold;">.</div>
<div class="x s" style="left:912.2px;top:119.0px;font-size:35.47px;font-weight:bold;">1</div>
<div class="x" style="left:161.6px;top:235.4px;font-size:29.07px;transform:scaleX(0.8791)">МАРКА</div>
<div class="x" style="left:397.8px;top:235.4px;font-size:29.07px;transform:scaleX(0.9089)">МОДЕЛЬ</div>
<div class="x" style="left:675.0px;top:218.4px;font-size:29.07px;transform:scaleX(0.9678)">ГОД</div>
<div class="x" style="left:639.6px;top:248.4px;font-size:29.07px;transform:scaleX(0.8824)">ВЫПУСКА</div>
<div class="x" style="left:906.1px;top:218.4px;font-size:29.07px;transform:scaleX(0.8606)">ОБЪЕМ</div>
<div class="x" style="left:875.5px;top:248.4px;font-size:29.07px;transform:scaleX(0.9131)">ДВИГАТЕЛЯ</div>
<div class="x" style="left:1143.1px;top:235.4px;font-size:29.07px;transform:scaleX(0.9334)">ТИП КПП</div>
<div class="x" style="left:1422.8px;top:218.4px;font-size:29.07px;transform:scaleX(0.9096)">ТИП</div>
<div class="x" style="left:1387.1px;top:248.4px;font-size:29.07px;transform:scaleX(0.8947)">ПРИВОДА</div>
<div class="x" style="left:166.0px;top:312.4px;font-size:29.07px;transform:scaleX(0.9651)">Jetour</div>
<div class="x" style="left:390.1px;top:312.4px;font-size:29.07px;transform:scaleX(0.9099)">X90 Plus</div>
<div class="x" style="left:667.5px;top:312.4px;font-size:29.07px;transform:scaleX(0.9612)">2023-</div>
<div class="x" style="left:929.0px;top:312.4px;font-size:29.07px;transform:scaleX(0.9382)">1.6</div>
<div class="x" style="left:1165.7px;top:312.4px;font-size:29.07px;transform:scaleX(0.9256)">АКПП</div>
<div class="x" style="left:1377.1px;top:312.4px;font-size:29.07px;transform:scaleX(0.8591)">ПЕРЕДНИЙ</div>
<div class="x" style="left:799.9px;top:485.4px;font-size:28.34px;transform:scaleX(0.9728)">Гайка М6</div>
<div class="x" style="left:808.2px;top:515.3px;font-size:28.34px;transform:scaleX(0.9754)">Шайба 6</div>
<div class="x" style="left:1472.7px;top:469.3px;font-size:28.34px;transform:scaleX(0.9464)">Закладная</div>
<div class="x" style="left:1571.8px;top:498.8px;font-size:28.34px;transform:scaleX(0.8722)">М8</div>
<div class="x" style="left:355.5px;top:611.7px;font-size:28.34px;transform:scaleX(0.9509)">Защита</div>
<div class="x" style="left:1029.1px;top:549.0px;font-size:28.34px;transform:scaleX(0.9536)">Закладная</div>
<div class="x" style="left:1127.1px;top:578.4px;font-size:28.34px;transform:scaleX(0.9284)">М8</div>
<div class="x" style="left:91.9px;top:710.2px;font-size:28.34px;transform:scaleX(0.9522)">Закладная</div>
<div class="x" style="left:104.9px;top:739.8px;font-size:28.34px;transform:scaleX(0.9753)">М8х37/15</div>
<div class="x" style="left:469.9px;top:682.3px;font-size:28.34px;transform:scaleX(0.9471)">Закладная</div>
<div class="x" style="left:567.7px;top:712.4px;font-size:28.34px;transform:scaleX(0.9097)">М8</div>
<div class="x" style="left:45.8px;top:987.9px;font-size:28.34px;transform:scaleX(0.9543)">Болт М8х20</div>
<div class="x" style="left:85.2px;top:1017.5px;font-size:28.34px;transform:scaleX(0.9736)">Шайба 8</div>
<div class="x" style="left:223.5px;top:1132.5px;font-size:28.34px;transform:scaleX(0.9536)">Закладная</div>
<div class="x" style="left:322.4px;top:1162.3px;font-size:28.34px;transform:scaleX(0.9043)">М6</div>
<div class="x" style="left:461.9px;top:1215.1px;font-size:28.34px;transform:scaleX(0.9524)">Болт М6х20</div>
<div class="x" style="left:501.0px;top:1244.9px;font-size:28.34px;transform:scaleX(0.9736)">Шайба 6</div>
<div class="x" style="left:701.5px;top:1142.7px;font-size:28.34px;transform:scaleX(0.9478)">Болт М8х20</div>
<div class="x" style="left:740.0px;top:1172.0px;font-size:28.34px;transform:scaleX(0.9727)">Шайба 8</div>
<div class="x" style="left:1247.0px;top:956.6px;font-size:28.34px;transform:scaleX(0.9498)">Болт М8х20</div>
<div class="x" style="left:1285.8px;top:986.7px;font-size:28.34px;transform:scaleX(0.9727)">Шайба 8</div>
<div class="x" style="left:78.7px;top:2201.9px;font-size:29.07px;transform:scaleX(0.9535)">Производитель вправе вносить изменения в конструкцию защиты.</div>
<div class="x" style="left:78.7px;top:2235.6px;font-size:29.07px;transform:scaleX(0.9641)">Техническая поддержка:</div>
<div class="x" style="left:407.0px;top:2235.6px;font-size:29.07px;font-weight:bold;transform:scaleX(0.9905)">supp@rivalauto.com</div>
<div class="x" style="left:78.7px;top:1785.6px;font-size:27.62px;font-weight:bold;transform:scaleX(1.0035)">Инструкция по установке:</div>
<div class="x" style="left:954.9px;top:1780.4px;font-size:29.07px;font-weight:bold;transform:scaleX(0.9492)">Состав изделия:</div>
<div class="x" style="left:78.9px;top:1847.1px;font-size:22.24px;transform:scaleX(1.0011)">1. Снять гайки теплозащиты со шпилек (Г)</div>
<div class="x" style="left:78.9px;top:1871.9px;font-size:22.24px;transform:scaleX(1.0011)">2. Закрутить гайки М6 с шайбой 6 на 1-2 оборота на шпильки (Г)</div>
<div class="x" style="left:78.9px;top:1896.7px;font-size:22.24px;transform:scaleX(1.0004)">3. Вложить закладные М8 в отверстия лонжерона (А), закладную М8х37/15 в</div>
<div class="x" style="left:78.9px;top:1921.5px;font-size:22.24px;transform:scaleX(0.9999)">отверстие лонжерона (Б), закладную М6 в отверстие (В) и зафиксировать</div>
<div class="x" style="left:78.9px;top:1946.4px;font-size:22.24px;transform:scaleX(1.0008)">разогнув усики.</div>
<div class="x" style="left:78.9px;top:1971.2px;font-size:22.24px;transform:scaleX(0.9991)">4. Закрутить болт М6х20 с шайбой 6 на 1-2 оборота в установленную</div>
<div class="x" style="left:78.9px;top:1996.0px;font-size:22.24px;transform:scaleX(1.0056)">закладную (В)</div>
<div class="x" style="left:78.9px;top:2020.8px;font-size:22.24px;transform:scaleX(0.9997)">5. Завести защиту на установленный болт М6 (В) и шпильки (Г). Закрепить к</div>
<div class="x" style="left:78.9px;top:2045.6px;font-size:22.24px;transform:scaleX(0.9985)">закладным (А) (Б) болтами М8х20 с шайбами 8.</div>
<div class="x" style="left:78.9px;top:2070.5px;font-size:22.24px;transform:scaleX(1.0000)">6. Затянуть болты с необходимым усилием. Использование</div>
<div class="x" style="left:78.9px;top:2095.3px;font-size:22.24px;transform:scaleX(1.0000)">пневмоинструмента запрещено.</div>
<div class="x" style="left:996.0px;top:1830.3px;font-size:26.89px;transform:scaleX(1.0324)">Наименование</div>
<div class="x" style="left:1236.9px;top:1830.3px;font-size:26.89px;transform:scaleX(1.0245)">Кол-во</div>
<div class="x" style="left:1352.0px;top:1830.3px;font-size:26.89px;transform:scaleX(1.0377)">Момент затяжки</div>
<div class="x" style="left:1065.6px;top:1872.6px;font-size:22.24px;">Болт М6х20</div>
<div class="x" style="left:1258.2px;top:1872.6px;font-size:22.24px;">1шт.</div>
<div class="x" style="left:1362.2px;top:1872.6px;font-size:22.24px;">9Нм</div>
<div class="x" style="left:1065.6px;top:1897.4px;font-size:22.24px;">Болт М8х20</div>
<div class="x" style="left:1258.2px;top:1897.4px;font-size:22.24px;">6шт.</div>
<div class="x" style="left:1362.2px;top:1897.4px;font-size:22.24px;">24Нм</div>
<div class="x" style="left:1099.9px;top:1922.3px;font-size:22.24px;">Шайба 6</div>
<div class="x" style="left:1258.2px;top:1922.3px;font-size:22.24px;">4шт.</div>
<div class="x" style="left:1099.9px;top:1947.2px;font-size:22.24px;">Шайба 8</div>
<div class="x" style="left:1258.2px;top:1947.2px;font-size:22.24px;">6шт.</div>
<div class="x" style="left:1040.3px;top:1972.0px;font-size:22.24px;">Закладная М8</div>
<div class="x" style="left:1258.2px;top:1972.0px;font-size:22.24px;">5шт.</div>
<div class="x" style="left:973.6px;top:1996.9px;font-size:22.24px;">Закладная М8х37/15</div>
<div class="x" style="left:1258.2px;top:1996.9px;font-size:22.24px;">1шт.</div>
<div class="x" style="left:1040.3px;top:2021.7px;font-size:22.24px;">Закладная М6</div>
<div class="x" style="left:1258.2px;top:2021.7px;font-size:22.24px;">1шт.</div>
<div class="x" style="left:1092.9px;top:2046.6px;font-size:22.24px;">Гайка М6</div>
<div class="x" style="left:1258.2px;top:2046.6px;font-size:22.24px;">3шт.</div>
<div class="x" style="left:1362.2px;top:2046.6px;font-size:22.24px;">9Нм</div>
</body></html>
